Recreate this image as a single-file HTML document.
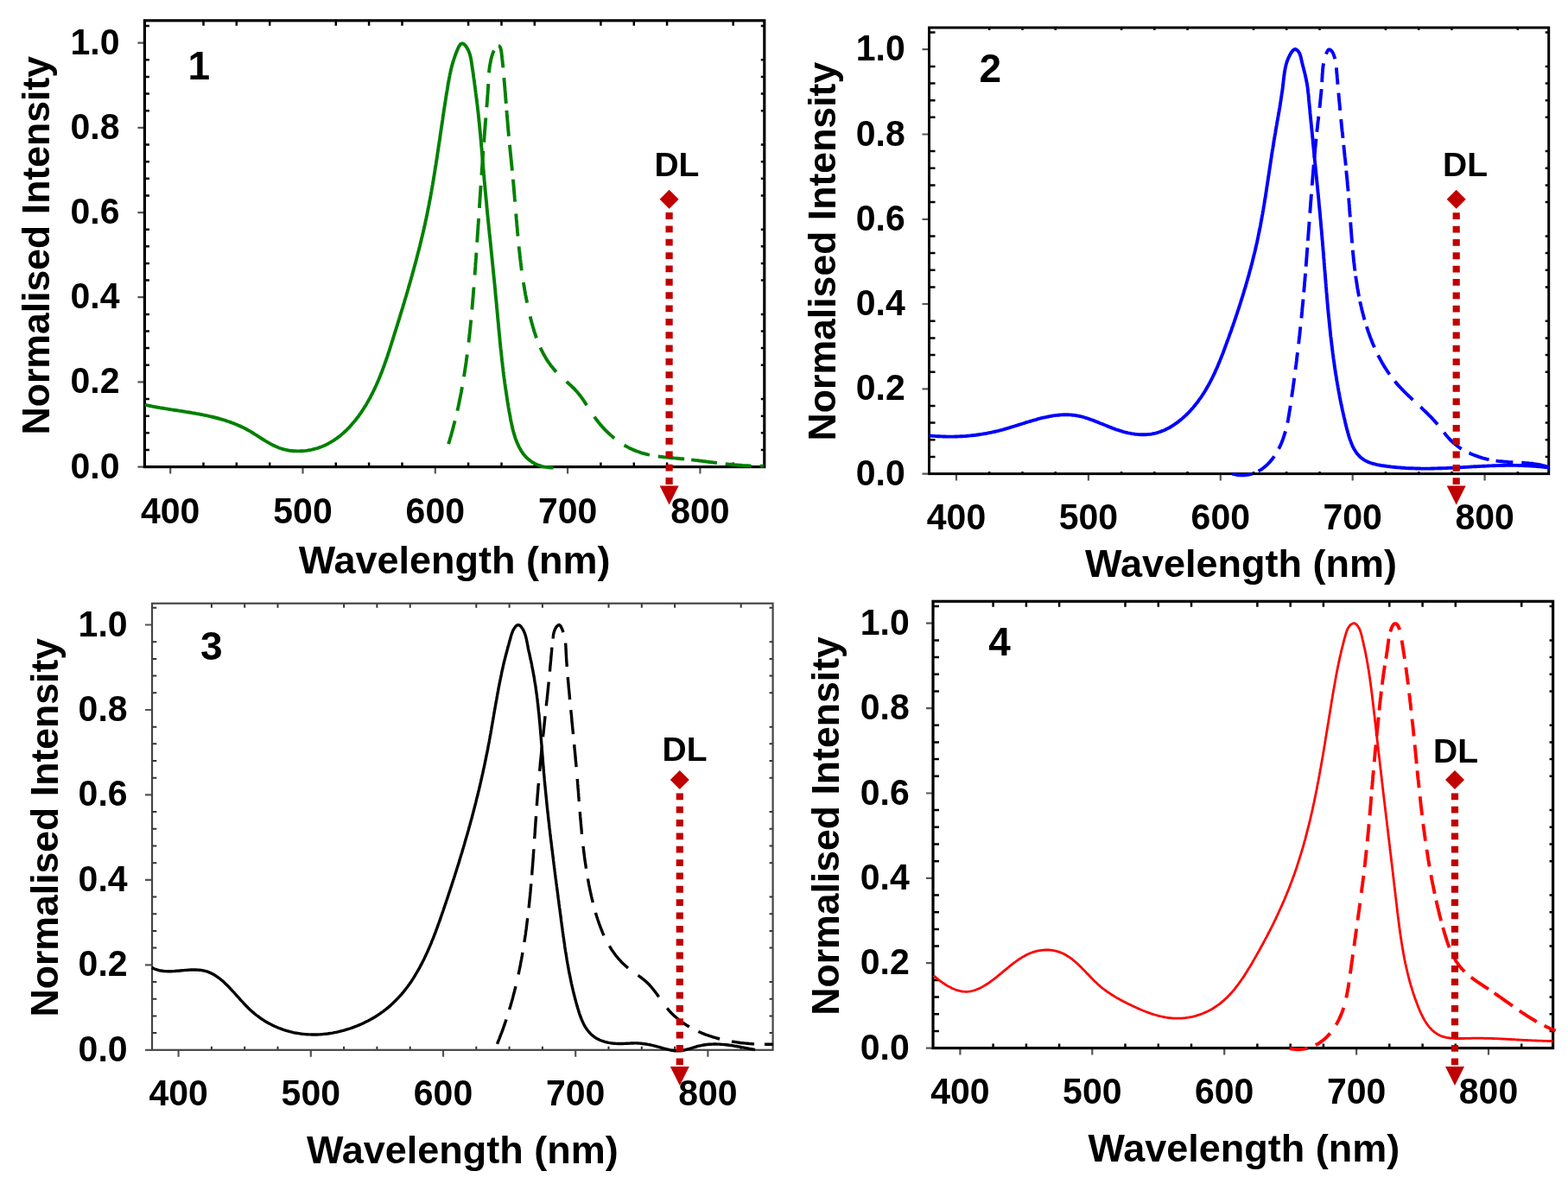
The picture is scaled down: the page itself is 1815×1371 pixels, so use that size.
<!DOCTYPE html>
<html><head><meta charset="utf-8"><title>Normalised Intensity spectra</title>
<style>html,body{margin:0;padding:0;background:#fff;}svg{display:block;}</style>
</head><body>
<svg width="1815" height="1371" viewBox="0 0 1815 1371" style="font-family:'Liberation Sans', Arial, sans-serif">
<rect width="1815" height="1371" fill="#fff"/>
<path d="M197.2,540.6V548.6 M350.5,540.6V548.6 M503.8,540.6V548.6 M657.1,540.6V548.6 M810.4,540.6V548.6 M167.4,540.6H159.4 M167.4,442.4H159.4 M167.4,344.2H159.4 M167.4,246.1H159.4 M167.4,147.9H159.4 M167.4,49.7H159.4" stroke="#555" stroke-width="2.2" fill="none"/>
<path d="M235.5,540.6V535.6 M235.5,23.8V29.8 M273.8,540.6V535.6 M273.8,23.8V29.8 M312.2,540.6V535.6 M312.2,23.8V29.8 M388.8,540.6V535.6 M388.8,23.8V29.8 M427.1,540.6V535.6 M427.1,23.8V29.8 M465.5,540.6V535.6 M465.5,23.8V29.8 M542.1,540.6V535.6 M542.1,23.8V29.8 M580.5,540.6V535.6 M580.5,23.8V29.8 M618.8,540.6V535.6 M618.8,23.8V29.8 M695.4,540.6V535.6 M695.4,23.8V29.8 M733.8,540.6V535.6 M733.8,23.8V29.8 M772.1,540.6V535.6 M772.1,23.8V29.8 M848.7,540.6V535.6 M848.7,23.8V29.8 M167.4,521.0H172.9 M884.8,521.0H880.8 M167.4,501.3H172.9 M884.8,501.3H880.8 M167.4,481.7H172.9 M884.8,481.7H880.8 M167.4,462.1H172.9 M884.8,462.1H880.8 M167.4,422.8H172.9 M884.8,422.8H880.8 M167.4,403.1H172.9 M884.8,403.1H880.8 M167.4,383.5H172.9 M884.8,383.5H880.8 M167.4,363.9H172.9 M884.8,363.9H880.8 M167.4,324.6H172.9 M884.8,324.6H880.8 M167.4,305.0H172.9 M884.8,305.0H880.8 M167.4,285.3H172.9 M884.8,285.3H880.8 M167.4,265.7H172.9 M884.8,265.7H880.8 M167.4,226.4H172.9 M884.8,226.4H880.8 M167.4,206.8H172.9 M884.8,206.8H880.8 M167.4,187.2H172.9 M884.8,187.2H880.8 M167.4,167.5H172.9 M884.8,167.5H880.8 M167.4,128.2H172.9 M884.8,128.2H880.8 M167.4,108.6H172.9 M884.8,108.6H880.8 M167.4,89.0H172.9 M884.8,89.0H880.8 M167.4,69.3H172.9 M884.8,69.3H880.8 M167.4,30.1H172.9 M884.8,30.1H880.8" stroke="#000" stroke-width="2.5" fill="none"/>
<rect x="167.4" y="23.8" width="717.4" height="516.8" fill="none" stroke="#000" stroke-width="3.2"/>
<path d="M167.9,468.8 169.8,469.2 171.7,469.6 173.6,470.0 175.5,470.4 177.5,470.8 179.4,471.1 181.3,471.5 183.3,471.8 185.2,472.2 187.2,472.5 189.2,472.8 191.1,473.1 193.1,473.4 195.1,473.8 197.1,474.1 199.0,474.4 201.0,474.7 203.0,475.0 205.0,475.3 207.0,475.6 209.0,475.9 211.0,476.2 213.0,476.5 215.0,476.9 217.0,477.2 219.0,477.5 221.0,477.8 223.0,478.2 225.0,478.5 227.0,478.9 229.0,479.2 231.0,479.6 233.0,480.0 234.9,480.4 236.9,480.8 238.9,481.2 240.9,481.6 242.9,482.1 244.8,482.5 246.8,483.0 248.7,483.5 250.7,484.0 252.6,484.5 254.6,485.0 256.5,485.6 258.4,486.2 260.3,486.7 262.2,487.4 264.1,488.0 266.0,488.6 267.9,489.3 269.7,490.0 271.6,490.7 273.4,491.5 275.3,492.3 277.1,493.1 278.9,493.9 280.7,494.7 282.5,495.6 284.3,496.5 286.0,497.5 287.8,498.4 289.5,499.4 291.2,500.4 292.9,501.5 294.6,502.6 296.3,503.6 298.0,504.7 299.7,505.8 301.4,506.9 303.1,508.0 304.8,509.0 306.5,510.1 308.2,511.1 309.9,512.1 311.7,513.1 313.4,514.1 315.1,515.0 316.9,515.9 318.7,516.7 320.5,517.5 322.3,518.3 324.2,519.0 326.1,519.6 328.0,520.2 329.9,520.7 331.9,521.1 333.8,521.5 335.8,521.8 337.8,522.0 339.8,522.2 341.9,522.3 343.9,522.4 345.9,522.4 348.0,522.3 350.0,522.2 352.0,522.1 354.1,521.9 356.1,521.6 358.1,521.2 360.1,520.9 362.1,520.4 364.0,519.9 365.9,519.4 367.9,518.8 369.7,518.2 371.6,517.5 373.4,516.8 375.2,516.0 377.0,515.2 378.8,514.3 380.5,513.4 382.2,512.4 383.9,511.4 385.6,510.4 387.2,509.3 388.9,508.2 390.4,507.1 392.0,505.9 393.6,504.7 395.1,503.4 396.6,502.1 398.1,500.8 399.5,499.5 401.0,498.1 402.4,496.7 403.8,495.3 405.2,493.8 406.5,492.3 407.8,490.8 409.1,489.3 410.4,487.8 411.7,486.2 412.9,484.6 414.2,483.0 415.4,481.4 416.5,479.7 417.7,478.1 418.8,476.4 420.0,474.7 421.0,473.0 422.1,471.3 423.2,469.6 424.2,467.9 425.2,466.1 426.2,464.4 427.2,462.6 428.2,460.9 429.1,459.1 430.0,457.3 431.0,455.6 431.8,453.8 432.7,452.0 433.6,450.2 434.4,448.4 435.3,446.5 436.1,444.7 436.9,442.9 437.7,441.0 438.5,439.2 439.2,437.3 440.0,435.5 440.7,433.6 441.5,431.8 442.2,429.9 442.9,428.0 443.6,426.1 444.3,424.3 445.0,422.4 445.6,420.5 446.3,418.6 447.0,416.7 447.6,414.8 448.3,412.9 448.9,411.0 449.5,409.1 450.2,407.2 450.8,405.3 451.4,403.4 452.0,401.4 452.6,399.5 453.2,397.6 453.8,395.7 454.4,393.8 455.0,391.9 455.6,390.0 456.2,388.0 456.8,386.1 457.4,384.2 458.0,382.3 458.6,380.4 459.2,378.5 459.8,376.6 460.4,374.6 461.0,372.7 461.6,370.8 462.2,368.9 462.8,367.0 463.3,365.1 463.9,363.2 464.5,361.3 465.1,359.3 465.7,357.4 466.3,355.5 466.8,353.6 467.4,351.7 468.0,349.8 468.5,347.9 469.1,346.0 469.7,344.0 470.3,342.1 470.8,340.2 471.4,338.3 471.9,336.4 472.5,334.5 473.0,332.6 473.6,330.6 474.2,328.7 474.7,326.8 475.2,324.9 475.8,323.0 476.3,321.0 476.9,319.1 477.4,317.2 477.9,315.3 478.5,313.4 479.0,311.4 479.5,309.5 480.0,307.6 480.6,305.7 481.1,303.7 481.6,301.8 482.1,299.9 482.6,297.9 483.1,296.0 483.6,294.1 484.1,292.1 484.6,290.2 485.1,288.3 485.6,286.3 486.1,284.4 486.5,282.5 487.0,280.5 487.5,278.6 487.9,276.6 488.4,274.7 488.9,272.7 489.3,270.8 489.8,268.9 490.2,266.9 490.7,265.0 491.1,263.0 491.6,261.0 492.0,259.1 492.4,257.1 492.8,255.2 493.3,253.2 493.7,251.2 494.1,249.3 494.5,247.3 494.9,245.3 495.3,243.4 495.7,241.4 496.1,239.4 496.5,237.4 496.8,235.5 497.2,233.5 497.6,231.5 498.0,229.5 498.3,227.5 498.7,225.6 499.0,223.6 499.4,221.6 499.7,219.6 500.1,217.6 500.4,215.6 500.8,213.6 501.1,211.6 501.5,209.7 501.8,207.7 502.1,205.7 502.4,203.7 502.8,201.7 503.1,199.7 503.4,197.7 503.7,195.7 504.0,193.7 504.4,191.7 504.7,189.7 505.0,187.7 505.3,185.7 505.6,183.8 505.9,181.8 506.2,179.8 506.5,177.8 506.8,175.8 507.1,173.8 507.4,171.8 507.7,169.8 508.0,167.8 508.3,165.8 508.6,163.9 508.9,161.9 509.2,159.9 509.5,157.9 509.7,155.9 510.0,154.0 510.3,152.0 510.6,150.0 510.9,148.0 511.2,146.0 511.5,144.1 511.8,142.1 512.1,140.1 512.4,138.2 512.6,136.2 512.9,134.2 513.2,132.3 513.5,130.3 513.8,128.4 514.1,126.4 514.4,124.5 514.7,122.5 515.0,120.6 515.3,118.6 515.6,116.7 515.9,114.7 516.2,112.8 516.5,110.9 516.8,108.9 517.1,107.0 517.5,105.1 517.8,103.2 518.1,101.2 518.4,99.3 518.7,97.4 519.1,95.5 519.4,93.6 519.7,91.7 520.1,89.8 520.5,87.8 520.8,85.9 521.3,84.0 521.7,82.0 522.1,80.1 522.6,78.1 523.2,76.1 523.7,74.1 524.3,72.1 524.9,70.1 525.6,68.0 526.3,65.9 527.0,63.8 527.8,61.7 528.7,59.5 529.6,57.3 530.6,55.2 531.6,53.2 532.7,51.6 533.9,50.6 535.2,50.3 536.6,50.8 538.0,52.0 539.4,53.6 540.6,55.5 541.7,57.5 542.6,59.5 543.4,61.5 544.0,63.5 544.5,65.5 545.0,67.5 545.4,69.6 545.7,71.6 546.0,73.7 546.3,75.7 546.6,77.7 546.9,79.7 547.2,81.8 547.5,83.8 547.8,85.8 548.1,87.8 548.3,89.8 548.6,91.8 548.9,93.8 549.2,95.8 549.4,97.8 549.7,99.8 550.0,101.8 550.2,103.7 550.5,105.7 550.7,107.7 551.0,109.7 551.2,111.6 551.5,113.6 551.7,115.6 552.0,117.6 552.2,119.5 552.5,121.5 552.7,123.5 552.9,125.4 553.1,127.4 553.4,129.3 553.6,131.3 553.8,133.3 554.0,135.2 554.2,137.2 554.4,139.2 554.6,141.1 554.8,143.1 555.0,145.1 555.2,147.0 555.4,149.0 555.6,151.0 555.8,153.0 556.0,154.9 556.2,156.9 556.3,158.9 556.5,160.9 556.7,162.9 556.9,164.8 557.0,166.8 557.2,168.8 557.4,170.8 557.6,172.8 557.7,174.8 557.9,176.8 558.1,178.8 558.2,180.8 558.4,182.8 558.6,184.8 558.7,186.8 558.9,188.8 559.1,190.8 559.2,192.8 559.4,194.8 559.6,196.8 559.7,198.8 559.9,200.8 560.1,202.8 560.3,204.8 560.4,206.8 560.6,208.8 560.8,210.8 561.0,212.8 561.2,214.8 561.4,216.8 561.5,218.8 561.7,220.8 561.9,222.8 562.1,224.8 562.3,226.8 562.5,228.8 562.7,230.8 562.9,232.8 563.1,234.8 563.3,236.8 563.4,238.8 563.6,240.8 563.8,242.8 564.0,244.9 564.2,246.9 564.4,248.9 564.6,250.9 564.8,252.9 565.0,254.9 565.2,256.9 565.4,258.9 565.6,260.9 565.8,262.9 566.0,264.9 566.2,266.9 566.4,268.9 566.6,270.9 566.8,272.9 567.1,274.9 567.3,276.9 567.5,278.9 567.7,280.9 567.9,282.9 568.1,284.9 568.3,286.9 568.5,288.9 568.7,290.9 568.9,292.9 569.1,294.9 569.3,296.9 569.5,298.9 569.7,300.9 569.9,302.9 570.1,304.9 570.3,306.9 570.5,308.9 570.7,310.9 570.9,312.9 571.1,314.9 571.3,316.9 571.5,318.9 571.7,320.9 571.9,322.9 572.1,324.9 572.3,326.9 572.5,328.8 572.7,330.8 572.9,332.8 573.1,334.8 573.3,336.8 573.4,338.8 573.6,340.8 573.8,342.7 574.0,344.7 574.2,346.7 574.4,348.7 574.6,350.7 574.8,352.6 574.9,354.6 575.1,356.6 575.3,358.6 575.5,360.5 575.7,362.5 575.9,364.5 576.0,366.5 576.2,368.4 576.4,370.4 576.6,372.4 576.8,374.4 577.0,376.3 577.1,378.3 577.3,380.3 577.5,382.2 577.7,384.2 577.9,386.2 578.1,388.2 578.3,390.1 578.5,392.1 578.6,394.1 578.8,396.1 579.0,398.0 579.2,400.0 579.4,402.0 579.6,404.0 579.9,405.9 580.1,407.9 580.3,409.9 580.5,411.9 580.7,413.9 580.9,415.8 581.1,417.8 581.4,419.8 581.6,421.8 581.8,423.8 582.1,425.8 582.3,427.8 582.5,429.7 582.8,431.7 583.0,433.7 583.3,435.7 583.5,437.7 583.8,439.7 584.1,441.7 584.3,443.7 584.6,445.7 584.9,447.7 585.2,449.8 585.5,451.8 585.8,453.8 586.1,455.8 586.4,457.8 586.7,459.8 587.0,461.9 587.3,463.9 587.6,465.9 588.0,467.9 588.3,470.0 588.6,472.0 589.0,474.1 589.3,476.1 589.7,478.1 590.1,480.2 590.5,482.2 590.8,484.3 591.2,486.3 591.6,488.4 592.1,490.4 592.5,492.5 593.0,494.5 593.4,496.5 593.9,498.5 594.5,500.5 595.0,502.4 595.6,504.3 596.2,506.3 596.8,508.1 597.5,510.0 598.2,511.8 599.0,513.6 599.8,515.4 600.6,517.1 601.5,518.8 602.4,520.4 603.3,522.0 604.4,523.6 605.4,525.1 606.5,526.5 607.7,527.9 609.0,529.3 610.2,530.5 611.6,531.8 613.0,532.9 614.5,534.0 616.0,535.1 617.7,536.0 619.3,536.9 621.1,537.8 622.9,538.5 624.9,539.2 626.8,539.8 628.9,540.3 631.1,540.7 633.3,541.1 635.6,541.3 638.0,541.5 640.5,541.5" stroke="#008000" stroke-width="3.9" fill="none" stroke-linejoin="round"/>
<path d="M519.1,514.1 519.7,512.2 520.3,510.3 520.8,508.4 521.4,506.5 522.0,504.6 522.5,502.7 523.0,500.8 523.6,498.9 524.1,496.9 524.6,495.0 525.1,493.1 525.6,491.1 526.1,489.2 526.6,487.3 527.1,485.3 527.6,483.4 528.0,481.5 528.5,479.5 529.0,477.6 529.4,475.6 529.8,473.7 530.3,471.7 530.7,469.8 531.1,467.8 531.5,465.9 531.9,463.9 532.3,462.0 532.7,460.0 533.1,458.1 533.5,456.1 533.9,454.1 534.2,452.2 534.6,450.2 535.0,448.2 535.3,446.2 535.7,444.3 536.0,442.3 536.3,440.3 536.7,438.4 537.0,436.4 537.3,434.4 537.6,432.4 537.9,430.4 538.2,428.5 538.5,426.5 538.8,424.5 539.1,422.5 539.4,420.5 539.7,418.5 539.9,416.5 540.2,414.5 540.5,412.6 540.7,410.6 541.0,408.6 541.3,406.6 541.5,404.6 541.8,402.6 542.0,400.6 542.2,398.6 542.5,396.6 542.7,394.6 542.9,392.6 543.1,390.6 543.4,388.6 543.6,386.6 543.8,384.6 544.0,382.6 544.2,380.6 544.4,378.6 544.6,376.6 544.8,374.6 545.0,372.6 545.2,370.6 545.4,368.6 545.6,366.6 545.8,364.6 545.9,362.6 546.1,360.6 546.3,358.6 546.5,356.6 546.7,354.6 546.8,352.6 547.0,350.6 547.2,348.6 547.3,346.6 547.5,344.6 547.7,342.6 547.8,340.6 548.0,338.6 548.1,336.6 548.3,334.6 548.5,332.6 548.6,330.6 548.8,328.6 548.9,326.6 549.1,324.6 549.2,322.6 549.4,320.6 549.5,318.6 549.7,316.6 549.8,314.6 550.0,312.6 550.1,310.7 550.3,308.7 550.4,306.7 550.5,304.7 550.7,302.7 550.8,300.7 551.0,298.7 551.1,296.7 551.2,294.7 551.4,292.7 551.5,290.7 551.7,288.7 551.8,286.7 551.9,284.8 552.1,282.8 552.2,280.8 552.3,278.8 552.5,276.8 552.6,274.8 552.7,272.8 552.9,270.8 553.0,268.8 553.1,266.8 553.3,264.8 553.4,262.9 553.5,260.9 553.7,258.9 553.8,256.9 553.9,254.9 554.1,252.9 554.2,250.9 554.3,248.9 554.5,246.9 554.6,244.9 554.7,242.9 554.9,240.9 555.0,239.0 555.1,237.0 555.3,235.0 555.4,233.0 555.5,231.0 555.6,229.0 555.8,227.0 555.9,225.0 556.0,223.0 556.2,221.0 556.3,219.0 556.4,217.0 556.6,215.0 556.7,213.0 556.8,211.0 557.0,209.0 557.1,207.0 557.3,205.0 557.4,203.0 557.5,201.0 557.7,199.0 557.8,197.0 557.9,195.0 558.1,193.0 558.2,191.0 558.4,189.0 558.5,187.0 558.6,184.9 558.8,182.9 558.9,180.9 559.1,178.9 559.2,176.9 559.4,174.9 559.5,172.9 559.7,170.9 559.8,168.8 560.0,166.8 560.1,164.8 560.3,162.8 560.4,160.8 560.6,158.8 560.7,156.7 560.9,154.7 561.0,152.7 561.2,150.7 561.4,148.6 561.5,146.6 561.7,144.6 561.8,142.6 562.0,140.5 562.2,138.5 562.3,136.5 562.5,134.4 562.7,132.4 562.8,130.4 563.0,128.3 563.2,126.3 563.3,124.3 563.5,122.3 563.7,120.3 563.8,118.3 564.0,116.3 564.1,114.3 564.3,112.3 564.4,110.4 564.6,108.4 564.7,106.5 564.8,104.6 564.9,102.7 565.1,100.8 565.2,98.9 565.3,97.0 565.3,95.2 565.4,93.4 565.5,91.6 565.6,89.7 565.7,87.9 565.9,86.1 566.0,84.2 566.2,82.3 566.4,80.4 566.6,78.4 566.9,76.4 567.3,74.3 567.7,72.2 568.1,70.0 568.6,67.7 569.3,65.3 570.0,63.0 570.8,60.8 571.8,58.6 573.0,56.6 574.3,54.9 575.6,53.7 576.9,53.1 578.0,53.3 578.8,54.4 579.5,56.1 580.0,58.2 580.4,60.6 580.7,63.1 581.0,65.6 581.2,67.9 581.5,70.1 581.7,72.2 581.9,74.3 582.1,76.3 582.3,78.3 582.5,80.2 582.7,82.2 582.8,84.2 583.0,86.1 583.2,88.1 583.4,90.1 583.5,92.0 583.7,94.0 583.9,96.0 584.0,98.0 584.2,99.9 584.4,101.9 584.5,103.9 584.7,105.9 584.9,107.9 585.0,109.8 585.2,111.8 585.3,113.8 585.5,115.8 585.6,117.8 585.8,119.8 586.0,121.7 586.1,123.7 586.3,125.7 586.4,127.7 586.6,129.7 586.7,131.7 586.9,133.7 587.1,135.7 587.2,137.6 587.4,139.6 587.6,141.6 587.7,143.6 587.9,145.6 588.1,147.6 588.2,149.6 588.4,151.6 588.6,153.6 588.8,155.6 588.9,157.6 589.1,159.6 589.3,161.6 589.5,163.5 589.7,165.5 589.9,167.5 590.1,169.5 590.3,171.5 590.5,173.5 590.7,175.5 590.9,177.5 591.1,179.5 591.3,181.5 591.5,183.5 591.7,185.5 591.9,187.5 592.1,189.5 592.3,191.5 592.5,193.5 592.7,195.5 592.9,197.5 593.1,199.5 593.3,201.5 593.4,203.5 593.6,205.5 593.8,207.5 594.0,209.5 594.2,211.5 594.4,213.5 594.6,215.5 594.7,217.5 594.9,219.5 595.1,221.5 595.2,223.5 595.4,225.4 595.6,227.4 595.7,229.4 595.9,231.4 596.1,233.4 596.2,235.4 596.4,237.4 596.6,239.4 596.7,241.4 596.9,243.4 597.1,245.4 597.2,247.4 597.4,249.4 597.6,251.4 597.7,253.4 597.9,255.4 598.1,257.4 598.2,259.4 598.4,261.4 598.6,263.4 598.8,265.4 598.9,267.4 599.1,269.4 599.3,271.4 599.5,273.4 599.7,275.4 599.9,277.4 600.0,279.4 600.2,281.4 600.4,283.4 600.6,285.3 600.8,287.3 601.0,289.3 601.3,291.3 601.5,293.3 601.7,295.3 601.9,297.3 602.1,299.3 602.4,301.3 602.6,303.2 602.9,305.2 603.1,307.2 603.4,309.2 603.6,311.2 603.9,313.2 604.2,315.1 604.4,317.1 604.7,319.1 605.0,321.1 605.3,323.1 605.6,325.0 605.9,327.0 606.2,329.0 606.5,331.0 606.9,332.9 607.2,334.9 607.5,336.9 607.9,338.9 608.2,340.8 608.6,342.8 609.0,344.8 609.4,346.7 609.7,348.7 610.1,350.7 610.6,352.6 611.0,354.6 611.4,356.6 611.8,358.5 612.3,360.5 612.7,362.4 613.2,364.4 613.7,366.3 614.1,368.3 614.6,370.2 615.1,372.2 615.6,374.1 616.2,376.1 616.7,378.0 617.3,380.0 617.9,381.9 618.4,383.8 619.1,385.7 619.7,387.6 620.3,389.5 621.0,391.4 621.7,393.3 622.4,395.1 623.1,397.0 623.9,398.8 624.7,400.6 625.5,402.5 626.3,404.3 627.2,406.0 628.1,407.8 629.0,409.6 629.9,411.3 630.9,413.0 631.9,414.7 632.9,416.4 634.0,418.1 635.1,419.7 636.3,421.3 637.4,422.9 638.7,424.5 639.9,426.0 641.2,427.6 642.5,429.1 643.9,430.6 645.3,432.0 646.7,433.5 648.2,434.9 649.7,436.3 651.2,437.7 652.7,439.1 654.2,440.4 655.8,441.8 657.3,443.2 658.8,444.6 660.3,446.0 661.8,447.4 663.2,448.8 664.7,450.2 666.1,451.7 667.4,453.2 668.8,454.7 670.0,456.2 671.3,457.8 672.5,459.4 673.6,461.0 674.8,462.6 675.9,464.3 677.0,465.9 678.1,467.6 679.2,469.3 680.2,471.0 681.3,472.6 682.4,474.3 683.5,476.0 684.6,477.7 685.7,479.3 686.8,481.0 688.0,482.6 689.1,484.2 690.3,485.9 691.6,487.4 692.8,489.0 694.1,490.6 695.4,492.1 696.7,493.6 698.1,495.1 699.4,496.6 700.8,498.1 702.2,499.5 703.7,500.9 705.1,502.3 706.6,503.6 708.1,504.9 709.6,506.2 711.2,507.5 712.8,508.7 714.3,509.9 716.0,511.1 717.6,512.3 719.2,513.4 720.9,514.4 722.6,515.5 724.3,516.5 726.0,517.4 727.8,518.4 729.5,519.2 731.3,520.1 733.1,520.9 734.9,521.6 736.7,522.4 738.6,523.0 740.5,523.7 742.3,524.3 744.2,524.8 746.1,525.3 748.1,525.8 750.0,526.3 752.0,526.7 753.9,527.1 755.9,527.5 757.9,527.8 759.9,528.1 761.8,528.4 763.8,528.7 765.9,528.9 767.9,529.2 769.9,529.4 771.9,529.6 773.9,529.8 776.0,530.0 778.0,530.2 780.0,530.4 782.0,530.6 784.1,530.8 786.1,531.0 788.1,531.2 790.1,531.3 792.2,531.5 794.2,531.7 796.2,532.0 798.2,532.2 800.2,532.4 802.2,532.6 804.2,532.9 806.2,533.1 808.2,533.3 810.1,533.6 812.1,533.8 814.1,534.1 816.1,534.3 818.1,534.6 820.0,534.8 822.0,535.1 824.0,535.3 825.9,535.6 827.9,535.8 829.9,536.0 831.9,536.3 833.8,536.5 835.8,536.7 837.8,537.0 839.8,537.2 841.7,537.4 843.7,537.6 845.7,537.8 847.7,538.0 849.6,538.2 851.6,538.4 853.6,538.5 855.6,538.7 857.6,538.8 859.6,539.0 861.6,539.1 863.6,539.2 865.6,539.3 867.6,539.4 869.7,539.5 871.7,539.5 873.7,539.6 875.7,539.6 877.8,539.6 879.8,539.6 881.9,539.6 883.9,539.6" stroke="#008000" stroke-width="3.9" fill="none" stroke-linejoin="round" stroke-dasharray="0.0 0.0 27.9 12.0 28.0 12.0 26.1 14.1 26.1 12.1 26.1 14.0 26.0 12.0 27.9 12.0 26.0 12.0 28.2 10.1 28.4 12.2 27.3 12.9 26.4 7.7 26.7 11.9 29.8 8.0 30.0 10.0 30.1 10.0 26.1 14.0 26.0 12.0 28.0 14.0 24.0 16.1 26.1 11.9 33.8 16.4 36.2 16.0 34.2 13.9 31.6 10.0 30.5 8.1 29.9 9.9 30.0 10.2 4.1"/>
<text transform="translate(197.2,605.5) scale(1,1.045)" font-size="41" font-weight="bold" text-anchor="middle">400</text>
<text transform="translate(350.5,605.5) scale(1,1.045)" font-size="41" font-weight="bold" text-anchor="middle">500</text>
<text transform="translate(503.8,605.5) scale(1,1.045)" font-size="41" font-weight="bold" text-anchor="middle">600</text>
<text transform="translate(657.1,605.5) scale(1,1.045)" font-size="41" font-weight="bold" text-anchor="middle">700</text>
<text transform="translate(810.4,605.5) scale(1,1.045)" font-size="41" font-weight="bold" text-anchor="middle">800</text>
<text transform="translate(138.5,553.6) scale(1,1.045)" font-size="41" font-weight="bold" text-anchor="end">0.0</text>
<text transform="translate(138.5,455.4) scale(1,1.045)" font-size="41" font-weight="bold" text-anchor="end">0.2</text>
<text transform="translate(138.5,357.2) scale(1,1.045)" font-size="41" font-weight="bold" text-anchor="end">0.4</text>
<text transform="translate(138.5,259.1) scale(1,1.045)" font-size="41" font-weight="bold" text-anchor="end">0.6</text>
<text transform="translate(138.5,160.9) scale(1,1.045)" font-size="41" font-weight="bold" text-anchor="end">0.8</text>
<text transform="translate(138.5,62.7) scale(1,1.045)" font-size="41" font-weight="bold" text-anchor="end">1.0</text>
<text x="526.1" y="664.0" font-size="45" font-weight="bold" text-anchor="middle">Wavelength (nm)</text>
<text transform="translate(57.3,284.2) rotate(-90)" font-size="44.6" font-weight="bold" text-anchor="middle">Normalised Intensity</text>
<text x="230.3" y="92.1" font-size="46" font-weight="bold" text-anchor="middle">1</text>
<text x="783.4" y="203.7" font-size="39" font-weight="bold" text-anchor="middle">DL</text>
<path d="M774.6,219.8l11,11 -11,11 -11,-11z" fill="#C00000"/>
<path d="M774.6,246.1V562.6" stroke="#C00000" stroke-width="8.2" stroke-dasharray="7.8 7.55"/>
<path d="M763.6,562.6h22l-11,22z" fill="#C00000"/>
<path d="M1107.0,548.6V556.6 M1259.9,548.6V556.6 M1412.8,548.6V556.6 M1565.7,548.6V556.6 M1718.6,548.6V556.6 M1075.5,548.6H1067.5 M1075.5,450.3H1067.5 M1075.5,352.0H1067.5 M1075.5,253.8H1067.5 M1075.5,155.5H1067.5 M1075.5,57.2H1067.5" stroke="#555" stroke-width="2.2" fill="none"/>
<path d="M1145.2,548.6V546.1 M1145.2,32.0V35.0 M1183.5,548.6V546.1 M1183.5,32.0V35.0 M1221.7,548.6V546.1 M1221.7,32.0V35.0 M1298.1,548.6V546.1 M1298.1,32.0V35.0 M1336.3,548.6V546.1 M1336.3,32.0V35.0 M1374.6,548.6V546.1 M1374.6,32.0V35.0 M1451.0,548.6V546.1 M1451.0,32.0V35.0 M1489.2,548.6V546.1 M1489.2,32.0V35.0 M1527.5,548.6V546.1 M1527.5,32.0V35.0 M1603.9,548.6V546.1 M1603.9,32.0V35.0 M1642.2,548.6V546.1 M1642.2,32.0V35.0 M1680.4,548.6V546.1 M1680.4,32.0V35.0 M1756.8,548.6V546.1 M1756.8,32.0V35.0 M1075.5,528.9H1082.5 M1792.7,528.9H1788.7 M1075.5,509.3H1082.5 M1792.7,509.3H1788.7 M1075.5,489.6H1082.5 M1792.7,489.6H1788.7 M1075.5,470.0H1082.5 M1792.7,470.0H1788.7 M1075.5,430.7H1082.5 M1792.7,430.7H1788.7 M1075.5,411.0H1082.5 M1792.7,411.0H1788.7 M1075.5,391.4H1082.5 M1792.7,391.4H1788.7 M1075.5,371.7H1082.5 M1792.7,371.7H1788.7 M1075.5,332.4H1082.5 M1792.7,332.4H1788.7 M1075.5,312.7H1082.5 M1792.7,312.7H1788.7 M1075.5,293.1H1082.5 M1792.7,293.1H1788.7 M1075.5,273.4H1082.5 M1792.7,273.4H1788.7 M1075.5,234.1H1082.5 M1792.7,234.1H1788.7 M1075.5,214.4H1082.5 M1792.7,214.4H1788.7 M1075.5,194.8H1082.5 M1792.7,194.8H1788.7 M1075.5,175.1H1082.5 M1792.7,175.1H1788.7 M1075.5,135.8H1082.5 M1792.7,135.8H1788.7 M1075.5,116.2H1082.5 M1792.7,116.2H1788.7 M1075.5,96.5H1082.5 M1792.7,96.5H1788.7 M1075.5,76.9H1082.5 M1792.7,76.9H1788.7 M1075.5,37.5H1082.5 M1792.7,37.5H1788.7" stroke="#000" stroke-width="2.5" fill="none"/>
<rect x="1075.5" y="32.0" width="717.2" height="516.6" fill="none" stroke="#000" stroke-width="3.0"/>
<path d="M1075.3,504.4 1077.4,504.6 1079.4,504.8 1081.5,504.9 1083.6,505.1 1085.6,505.2 1087.7,505.3 1089.7,505.4 1091.8,505.5 1093.8,505.5 1095.8,505.6 1097.8,505.6 1099.8,505.6 1101.9,505.6 1103.8,505.6 1105.8,505.5 1107.8,505.5 1109.8,505.4 1111.8,505.3 1113.8,505.2 1115.7,505.1 1117.7,505.0 1119.7,504.8 1121.6,504.6 1123.6,504.4 1125.5,504.2 1127.5,504.0 1129.4,503.8 1131.4,503.5 1133.3,503.2 1135.3,502.9 1137.2,502.6 1139.1,502.3 1141.1,502.0 1143.0,501.6 1145.0,501.2 1146.9,500.8 1148.8,500.4 1150.8,500.0 1152.7,499.5 1154.6,499.1 1156.6,498.6 1158.5,498.1 1160.5,497.6 1162.4,497.0 1164.4,496.5 1166.3,495.9 1168.3,495.3 1170.2,494.7 1172.2,494.2 1174.1,493.5 1176.1,492.9 1178.0,492.3 1180.0,491.7 1181.9,491.1 1183.9,490.5 1185.8,489.9 1187.8,489.2 1189.8,488.6 1191.7,488.0 1193.7,487.5 1195.6,486.9 1197.6,486.3 1199.5,485.8 1201.5,485.2 1203.5,484.7 1205.4,484.2 1207.4,483.7 1209.3,483.3 1211.3,482.9 1213.2,482.5 1215.2,482.1 1217.1,481.7 1219.1,481.4 1221.0,481.1 1222.9,480.9 1224.9,480.7 1226.8,480.5 1228.8,480.4 1230.7,480.3 1232.6,480.2 1234.5,480.2 1236.5,480.3 1238.4,480.4 1240.3,480.5 1242.2,480.7 1244.1,480.9 1246.0,481.2 1248.0,481.6 1249.9,482.0 1251.8,482.4 1253.7,482.9 1255.6,483.5 1257.5,484.1 1259.4,484.7 1261.2,485.3 1263.1,486.0 1265.0,486.7 1266.9,487.4 1268.8,488.2 1270.7,488.9 1272.6,489.7 1274.6,490.5 1276.5,491.2 1278.4,492.0 1280.3,492.8 1282.2,493.6 1284.2,494.4 1286.1,495.1 1288.0,495.9 1290.0,496.6 1291.9,497.3 1293.9,497.9 1295.9,498.6 1297.9,499.2 1299.9,499.8 1301.8,500.3 1303.9,500.8 1305.9,501.3 1307.9,501.7 1309.9,502.1 1311.9,502.4 1313.9,502.7 1315.9,502.9 1317.9,503.1 1319.9,503.2 1321.9,503.2 1323.9,503.3 1325.9,503.2 1327.9,503.1 1329.8,502.9 1331.8,502.7 1333.7,502.4 1335.6,502.0 1337.5,501.6 1339.4,501.1 1341.3,500.5 1343.1,499.9 1345.0,499.2 1346.8,498.5 1348.6,497.7 1350.4,496.8 1352.1,495.9 1353.9,495.0 1355.6,494.0 1357.3,492.9 1358.9,491.9 1360.6,490.7 1362.2,489.6 1363.8,488.4 1365.4,487.1 1367.0,485.9 1368.5,484.6 1370.0,483.2 1371.5,481.9 1373.0,480.5 1374.4,479.1 1375.9,477.6 1377.3,476.2 1378.6,474.7 1380.0,473.2 1381.3,471.7 1382.5,470.1 1383.8,468.6 1385.0,467.0 1386.3,465.4 1387.4,463.8 1388.6,462.2 1389.8,460.6 1390.9,459.0 1392.0,457.3 1393.1,455.6 1394.1,454.0 1395.2,452.3 1396.2,450.6 1397.2,448.8 1398.2,447.1 1399.1,445.4 1400.1,443.6 1401.0,441.9 1401.9,440.1 1402.8,438.3 1403.7,436.5 1404.6,434.7 1405.5,432.9 1406.3,431.1 1407.1,429.2 1408.0,427.4 1408.8,425.6 1409.6,423.7 1410.3,421.9 1411.1,420.0 1411.9,418.2 1412.6,416.3 1413.4,414.4 1414.1,412.5 1414.9,410.7 1415.6,408.8 1416.3,406.9 1417.0,405.0 1417.7,403.1 1418.4,401.2 1419.1,399.3 1419.8,397.4 1420.5,395.5 1421.2,393.6 1421.9,391.7 1422.6,389.8 1423.2,387.9 1423.9,386.0 1424.6,384.2 1425.3,382.3 1425.9,380.4 1426.6,378.5 1427.3,376.6 1427.9,374.7 1428.6,372.8 1429.2,370.9 1429.9,369.0 1430.5,367.1 1431.1,365.2 1431.8,363.3 1432.4,361.4 1433.0,359.5 1433.7,357.6 1434.3,355.7 1434.9,353.8 1435.5,351.9 1436.1,350.0 1436.7,348.1 1437.3,346.2 1437.9,344.2 1438.5,342.3 1439.1,340.4 1439.7,338.5 1440.2,336.6 1440.8,334.7 1441.4,332.8 1442.0,330.9 1442.5,329.0 1443.1,327.1 1443.6,325.1 1444.2,323.2 1444.7,321.3 1445.3,319.4 1445.8,317.5 1446.3,315.5 1446.8,313.6 1447.4,311.7 1447.9,309.8 1448.4,307.8 1448.9,305.9 1449.4,304.0 1449.9,302.0 1450.4,300.1 1450.8,298.2 1451.3,296.2 1451.8,294.3 1452.3,292.4 1452.7,290.4 1453.2,288.5 1453.6,286.5 1454.1,284.6 1454.5,282.6 1455.0,280.7 1455.4,278.7 1455.8,276.8 1456.2,274.8 1456.6,272.9 1457.0,270.9 1457.4,269.0 1457.8,267.0 1458.2,265.0 1458.6,263.1 1459.0,261.1 1459.3,259.1 1459.7,257.2 1460.1,255.2 1460.4,253.2 1460.8,251.2 1461.1,249.3 1461.5,247.3 1461.8,245.3 1462.2,243.3 1462.5,241.4 1462.8,239.4 1463.2,237.4 1463.5,235.4 1463.8,233.4 1464.1,231.4 1464.5,229.5 1464.8,227.5 1465.1,225.5 1465.4,223.5 1465.7,221.5 1466.0,219.5 1466.3,217.5 1466.6,215.5 1466.9,213.6 1467.2,211.6 1467.5,209.6 1467.8,207.6 1468.1,205.6 1468.4,203.6 1468.7,201.6 1469.0,199.6 1469.3,197.7 1469.6,195.7 1469.9,193.7 1470.2,191.7 1470.5,189.7 1470.8,187.7 1471.1,185.7 1471.4,183.7 1471.7,181.8 1472.0,179.8 1472.3,177.8 1472.6,175.8 1472.9,173.8 1473.3,171.8 1473.6,169.9 1473.9,167.9 1474.2,165.9 1474.5,163.9 1474.8,162.0 1475.2,160.0 1475.5,158.0 1475.8,156.1 1476.2,154.1 1476.5,152.1 1476.8,150.1 1477.2,148.2 1477.5,146.2 1477.9,144.3 1478.2,142.3 1478.5,140.3 1478.9,138.4 1479.2,136.4 1479.6,134.4 1479.9,132.5 1480.3,130.5 1480.6,128.6 1480.9,126.6 1481.3,124.6 1481.6,122.7 1481.9,120.7 1482.2,118.7 1482.5,116.7 1482.8,114.8 1483.1,112.8 1483.4,110.8 1483.7,108.8 1484.0,106.9 1484.3,104.9 1484.6,102.9 1484.8,100.9 1485.1,98.9 1485.3,96.9 1485.5,94.9 1485.7,92.9 1486.0,90.9 1486.2,88.9 1486.5,86.9 1486.7,84.9 1487.0,82.9 1487.4,80.9 1487.7,78.9 1488.2,76.9 1488.6,75.0 1489.2,73.0 1489.8,71.1 1490.5,69.2 1491.3,67.3 1492.2,65.4 1493.1,63.6 1494.2,61.7 1495.4,59.9 1496.7,58.3 1498.1,57.2 1499.6,57.0 1501.1,57.7 1502.6,59.1 1503.8,60.9 1504.7,62.9 1505.4,65.0 1506.0,67.1 1506.4,69.2 1506.9,71.2 1507.3,73.1 1507.8,75.0 1508.2,76.8 1508.7,78.6 1509.2,80.5 1509.7,82.4 1510.2,84.4 1510.7,86.4 1511.1,88.4 1511.6,90.5 1512.0,92.5 1512.4,94.5 1512.8,96.5 1513.1,98.5 1513.4,100.5 1513.7,102.5 1513.9,104.5 1514.1,106.5 1514.4,108.5 1514.6,110.4 1514.8,112.4 1514.9,114.4 1515.1,116.4 1515.3,118.3 1515.5,120.3 1515.7,122.3 1515.9,124.3 1516.1,126.2 1516.3,128.2 1516.4,130.2 1516.6,132.2 1516.8,134.1 1517.0,136.1 1517.2,138.1 1517.4,140.1 1517.6,142.1 1517.8,144.1 1518.0,146.0 1518.2,148.0 1518.4,150.0 1518.6,152.0 1518.8,154.0 1519.0,156.0 1519.2,158.0 1519.4,160.0 1519.6,162.0 1519.7,164.0 1519.9,166.0 1520.1,168.0 1520.3,170.0 1520.5,171.9 1520.7,173.9 1520.9,175.9 1521.1,177.9 1521.3,179.9 1521.5,181.9 1521.7,183.9 1521.9,185.9 1522.1,187.9 1522.3,189.9 1522.5,191.9 1522.7,193.9 1522.9,195.9 1523.1,197.9 1523.3,199.9 1523.5,202.0 1523.7,204.0 1523.9,206.0 1524.1,208.0 1524.3,210.0 1524.5,212.0 1524.7,214.0 1524.9,216.0 1525.1,218.0 1525.3,220.0 1525.5,222.0 1525.7,224.0 1525.9,226.0 1526.1,228.0 1526.3,230.0 1526.5,232.0 1526.6,234.0 1526.8,236.0 1527.0,238.0 1527.2,240.0 1527.4,242.0 1527.6,244.0 1527.8,246.0 1528.0,248.0 1528.1,250.0 1528.3,252.0 1528.5,254.0 1528.7,256.0 1528.9,258.0 1529.0,260.0 1529.2,262.0 1529.4,264.0 1529.6,266.0 1529.8,268.0 1529.9,270.0 1530.1,272.0 1530.3,274.0 1530.4,276.0 1530.6,278.0 1530.8,280.0 1530.9,282.0 1531.1,284.0 1531.3,286.0 1531.4,288.0 1531.6,290.0 1531.8,292.0 1531.9,294.0 1532.1,296.0 1532.2,297.9 1532.4,299.9 1532.6,301.9 1532.7,303.9 1532.9,305.9 1533.0,307.9 1533.2,309.9 1533.3,311.9 1533.5,313.8 1533.7,315.8 1533.8,317.8 1534.0,319.8 1534.1,321.8 1534.3,323.8 1534.5,325.8 1534.6,327.7 1534.8,329.7 1534.9,331.7 1535.1,333.7 1535.3,335.7 1535.4,337.7 1535.6,339.6 1535.8,341.6 1535.9,343.6 1536.1,345.6 1536.3,347.6 1536.4,349.5 1536.6,351.5 1536.8,353.5 1537.0,355.5 1537.1,357.5 1537.3,359.5 1537.5,361.4 1537.7,363.4 1537.9,365.4 1538.1,367.4 1538.3,369.4 1538.5,371.3 1538.7,373.3 1538.9,375.3 1539.1,377.3 1539.3,379.3 1539.5,381.2 1539.7,383.2 1539.9,385.2 1540.1,387.2 1540.3,389.2 1540.6,391.2 1540.8,393.1 1541.0,395.1 1541.3,397.1 1541.5,399.1 1541.7,401.1 1542.0,403.1 1542.2,405.1 1542.5,407.0 1542.7,409.0 1543.0,411.0 1543.3,413.0 1543.5,415.0 1543.8,417.0 1544.1,419.0 1544.4,420.9 1544.6,422.9 1544.9,424.9 1545.2,426.9 1545.5,428.9 1545.8,430.9 1546.1,432.9 1546.5,434.9 1546.8,436.9 1547.1,438.9 1547.4,440.9 1547.8,442.9 1548.1,444.8 1548.5,446.8 1548.8,448.8 1549.2,450.8 1549.5,452.8 1549.9,454.8 1550.3,456.8 1550.6,458.8 1551.0,460.8 1551.4,462.8 1551.8,464.8 1552.2,466.8 1552.6,468.8 1553.1,470.9 1553.5,472.9 1553.9,474.9 1554.4,476.9 1554.8,478.9 1555.3,480.9 1555.7,482.9 1556.2,484.9 1556.7,486.9 1557.1,488.9 1557.6,491.0 1558.1,493.0 1558.6,495.0 1559.1,497.0 1559.7,499.0 1560.2,501.0 1560.8,503.0 1561.3,505.0 1561.9,506.9 1562.6,508.8 1563.3,510.7 1564.0,512.6 1564.7,514.4 1565.5,516.2 1566.3,517.9 1567.2,519.6 1568.2,521.2 1569.2,522.8 1570.2,524.3 1571.3,525.8 1572.5,527.2 1573.8,528.5 1575.1,529.7 1576.5,530.8 1578.0,531.9 1579.5,532.9 1581.2,533.8 1582.9,534.6 1584.6,535.3 1586.5,536.0 1588.3,536.6 1590.3,537.1 1592.2,537.6 1594.2,538.1 1596.2,538.5 1598.3,538.9 1600.3,539.2 1602.4,539.5 1604.5,539.8 1606.5,540.1 1608.6,540.3 1610.6,540.6 1612.7,540.8 1614.7,541.0 1616.8,541.2 1618.8,541.4 1620.9,541.5 1622.9,541.7 1624.9,541.8 1627.0,542.0 1629.0,542.1 1631.0,542.2 1633.0,542.3 1635.0,542.3 1637.1,542.4 1639.1,542.5 1641.1,542.5 1643.1,542.5 1645.1,542.6 1647.1,542.6 1649.1,542.6 1651.1,542.6 1653.1,542.6 1655.1,542.6 1657.1,542.5 1659.1,542.5 1661.1,542.4 1663.1,542.4 1665.0,542.3 1667.0,542.3 1669.0,542.2 1671.0,542.1 1673.0,542.1 1675.0,542.0 1676.9,541.9 1678.9,541.8 1680.9,541.7 1682.9,541.6 1684.9,541.5 1686.8,541.4 1688.8,541.3 1690.8,541.2 1692.8,541.1 1694.7,541.0 1696.7,540.9 1698.7,540.8 1700.7,540.6 1702.6,540.5 1704.6,540.4 1706.6,540.3 1708.6,540.2 1710.5,540.1 1712.5,540.0 1714.5,539.9 1716.5,539.8 1718.5,539.7 1720.4,539.6 1722.4,539.5 1724.4,539.4 1726.4,539.4 1728.4,539.3 1730.4,539.2 1732.3,539.1 1734.3,539.1 1736.3,539.0 1738.3,539.0 1740.3,539.0 1742.3,538.9 1744.3,538.9 1746.3,538.9 1748.3,538.9 1750.3,538.9 1752.3,538.9 1754.3,538.9 1756.3,538.9 1758.3,539.0 1760.4,539.0 1762.4,539.1 1764.4,539.2 1766.4,539.3 1768.5,539.3 1770.5,539.5 1772.5,539.6 1774.5,539.7 1776.6,539.9 1778.6,540.0 1780.7,540.2 1782.7,540.4 1784.8,540.6 1786.8,540.8 1788.9,541.0 1791.0,541.3 1793.0,541.6" stroke="#0000FF" stroke-width="3.9" fill="none" stroke-linejoin="round"/>
<path d="M1426.4,548.6 1428.7,549.2 1431.0,549.7 1433.2,550.0 1435.4,550.2 1437.5,550.3 1439.6,550.3 1441.7,550.1 1443.7,549.9 1445.7,549.6 1447.6,549.1 1449.5,548.6 1451.4,548.0 1453.2,547.3 1454.9,546.5 1456.6,545.6 1458.3,544.6 1460.0,543.6 1461.5,542.5 1463.1,541.3 1464.6,540.1 1466.1,538.8 1467.5,537.4 1468.8,536.0 1470.2,534.6 1471.5,533.0 1472.7,531.5 1473.9,529.9 1475.1,528.3 1476.2,526.6 1477.2,524.9 1478.3,523.2 1479.3,521.4 1480.2,519.7 1481.1,517.9 1481.9,516.1 1482.8,514.3 1483.5,512.4 1484.3,510.6 1485.0,508.7 1485.6,506.9 1486.2,505.0 1486.8,503.1 1487.4,501.2 1488.0,499.3 1488.5,497.3 1489.0,495.4 1489.4,493.5 1489.9,491.5 1490.3,489.5 1490.7,487.6 1491.1,485.6 1491.4,483.6 1491.8,481.7 1492.1,479.7 1492.4,477.7 1492.8,475.7 1493.1,473.7 1493.4,471.7 1493.7,469.7 1494.0,467.7 1494.3,465.7 1494.6,463.8 1494.9,461.8 1495.1,459.8 1495.4,457.8 1495.7,455.8 1496.0,453.8 1496.3,451.8 1496.6,449.8 1496.8,447.8 1497.1,445.8 1497.4,443.9 1497.7,441.9 1497.9,439.9 1498.2,437.9 1498.5,435.9 1498.7,433.9 1499.0,431.9 1499.2,429.9 1499.5,428.0 1499.7,426.0 1500.0,424.0 1500.3,422.0 1500.5,420.0 1500.8,418.0 1501.0,416.0 1501.2,414.1 1501.5,412.1 1501.7,410.1 1502.0,408.1 1502.2,406.1 1502.4,404.1 1502.7,402.1 1502.9,400.2 1503.1,398.2 1503.4,396.2 1503.6,394.2 1503.8,392.2 1504.0,390.2 1504.3,388.3 1504.5,386.3 1504.7,384.3 1504.9,382.3 1505.1,380.3 1505.3,378.3 1505.5,376.3 1505.7,374.3 1506.0,372.4 1506.2,370.4 1506.4,368.4 1506.6,366.4 1506.8,364.4 1507.0,362.4 1507.2,360.4 1507.3,358.4 1507.5,356.5 1507.7,354.5 1507.9,352.5 1508.1,350.5 1508.3,348.5 1508.5,346.5 1508.7,344.5 1508.8,342.5 1509.0,340.5 1509.2,338.5 1509.4,336.6 1509.5,334.6 1509.7,332.6 1509.9,330.6 1510.0,328.6 1510.2,326.6 1510.4,324.6 1510.5,322.6 1510.7,320.6 1510.9,318.6 1511.0,316.6 1511.2,314.6 1511.4,312.6 1511.5,310.6 1511.7,308.6 1511.8,306.6 1512.0,304.6 1512.1,302.6 1512.3,300.6 1512.4,298.6 1512.6,296.6 1512.7,294.6 1512.9,292.6 1513.0,290.6 1513.2,288.6 1513.3,286.6 1513.5,284.6 1513.6,282.6 1513.8,280.6 1513.9,278.6 1514.1,276.6 1514.2,274.6 1514.4,272.6 1514.5,270.6 1514.7,268.6 1514.8,266.6 1515.0,264.6 1515.1,262.6 1515.3,260.6 1515.4,258.6 1515.6,256.6 1515.7,254.6 1515.9,252.6 1516.0,250.6 1516.1,248.6 1516.3,246.6 1516.4,244.6 1516.6,242.6 1516.7,240.6 1516.9,238.6 1517.0,236.6 1517.2,234.6 1517.3,232.6 1517.5,230.6 1517.6,228.6 1517.8,226.6 1518.0,224.6 1518.1,222.6 1518.3,220.6 1518.4,218.6 1518.6,216.6 1518.7,214.6 1518.9,212.6 1519.1,210.6 1519.2,208.6 1519.4,206.6 1519.5,204.6 1519.7,202.6 1519.9,200.6 1520.0,198.6 1520.2,196.6 1520.4,194.6 1520.5,192.6 1520.7,190.6 1520.9,188.6 1521.1,186.6 1521.2,184.6 1521.4,182.6 1521.6,180.6 1521.8,178.6 1522.0,176.6 1522.2,174.6 1522.3,172.6 1522.5,170.6 1522.7,168.6 1522.9,166.6 1523.1,164.6 1523.3,162.6 1523.5,160.6 1523.7,158.6 1523.9,156.6 1524.1,154.6 1524.3,152.6 1524.5,150.6 1524.8,148.6 1525.0,146.7 1525.2,144.7 1525.4,142.7 1525.6,140.7 1525.9,138.7 1526.1,136.7 1526.3,134.7 1526.5,132.7 1526.8,130.7 1527.0,128.7 1527.2,126.7 1527.4,124.7 1527.7,122.7 1527.9,120.8 1528.1,118.8 1528.3,116.8 1528.5,114.8 1528.7,112.8 1528.9,110.9 1529.1,108.9 1529.3,106.9 1529.5,104.9 1529.7,103.0 1529.8,101.0 1530.0,99.0 1530.1,97.1 1530.2,95.1 1530.3,93.2 1530.4,91.2 1530.5,89.3 1530.6,87.3 1530.7,85.4 1530.9,83.4 1531.0,81.4 1531.2,79.4 1531.4,77.4 1531.7,75.4 1532.1,73.3 1532.5,71.2 1533.0,69.1 1533.6,66.9 1534.2,64.7 1535.0,62.5 1535.9,60.4 1536.9,58.6 1538.0,57.5 1539.2,57.3 1540.5,58.1 1541.8,59.6 1543.0,61.6 1543.9,63.8 1544.7,66.1 1545.3,68.4 1545.8,70.6 1546.2,72.7 1546.5,74.6 1546.7,76.6 1546.9,78.5 1547.0,80.3 1547.2,82.2 1547.3,84.1 1547.5,86.1 1547.7,88.0 1547.8,89.9 1548.0,91.9 1548.2,93.8 1548.3,95.8 1548.5,97.8 1548.7,99.8 1548.8,101.8 1549.0,103.8 1549.2,105.8 1549.4,107.8 1549.6,109.8 1549.7,111.8 1549.9,113.8 1550.1,115.8 1550.3,117.9 1550.5,119.9 1550.7,121.9 1550.9,123.9 1551.0,126.0 1551.2,128.0 1551.4,130.0 1551.6,132.0 1551.8,134.0 1552.0,136.0 1552.2,138.0 1552.4,140.0 1552.6,142.0 1552.8,144.0 1553.0,146.0 1553.2,148.0 1553.4,150.0 1553.6,152.0 1553.9,154.0 1554.1,156.0 1554.3,158.0 1554.5,160.0 1554.7,162.0 1554.9,164.0 1555.1,165.9 1555.3,167.9 1555.5,169.9 1555.7,171.9 1555.9,173.9 1556.1,175.8 1556.3,177.8 1556.5,179.8 1556.7,181.8 1557.0,183.8 1557.2,185.7 1557.4,187.7 1557.6,189.7 1557.8,191.7 1557.9,193.6 1558.1,195.6 1558.3,197.6 1558.5,199.6 1558.7,201.6 1558.9,203.5 1559.1,205.5 1559.3,207.5 1559.5,209.5 1559.7,211.5 1559.8,213.4 1560.0,215.4 1560.2,217.4 1560.4,219.4 1560.5,221.4 1560.7,223.4 1560.9,225.4 1561.0,227.4 1561.2,229.4 1561.3,231.4 1561.5,233.4 1561.6,235.4 1561.8,237.4 1561.9,239.4 1562.1,241.4 1562.2,243.4 1562.4,245.4 1562.5,247.4 1562.7,249.4 1562.8,251.4 1563.0,253.4 1563.1,255.5 1563.3,257.5 1563.4,259.5 1563.5,261.5 1563.7,263.5 1563.8,265.5 1564.0,267.5 1564.2,269.5 1564.3,271.6 1564.5,273.6 1564.6,275.6 1564.8,277.6 1565.0,279.6 1565.1,281.6 1565.3,283.6 1565.5,285.6 1565.6,287.7 1565.8,289.7 1566.0,291.7 1566.2,293.7 1566.4,295.7 1566.6,297.7 1566.8,299.7 1567.0,301.7 1567.2,303.7 1567.5,305.7 1567.7,307.7 1567.9,309.7 1568.2,311.7 1568.4,313.7 1568.7,315.7 1569.0,317.7 1569.2,319.7 1569.5,321.7 1569.8,323.7 1570.1,325.7 1570.4,327.6 1570.7,329.6 1571.0,331.6 1571.3,333.6 1571.7,335.5 1572.0,337.5 1572.4,339.5 1572.7,341.4 1573.1,343.4 1573.5,345.4 1573.9,347.3 1574.3,349.3 1574.7,351.2 1575.2,353.2 1575.6,355.1 1576.1,357.1 1576.5,359.0 1577.0,360.9 1577.5,362.9 1578.0,364.8 1578.5,366.7 1579.0,368.6 1579.6,370.5 1580.1,372.5 1580.7,374.4 1581.3,376.3 1581.9,378.2 1582.5,380.1 1583.1,381.9 1583.7,383.8 1584.4,385.7 1585.1,387.6 1585.7,389.5 1586.4,391.3 1587.2,393.2 1587.9,395.0 1588.6,396.9 1589.4,398.7 1590.2,400.6 1591.0,402.4 1591.8,404.2 1592.6,406.0 1593.5,407.8 1594.3,409.6 1595.2,411.4 1596.1,413.2 1597.1,415.0 1598.0,416.7 1599.0,418.5 1599.9,420.2 1601.0,421.9 1602.0,423.7 1603.0,425.4 1604.1,427.0 1605.2,428.7 1606.3,430.4 1607.4,432.0 1608.5,433.6 1609.7,435.3 1610.9,436.9 1612.1,438.4 1613.4,440.0 1614.6,441.5 1615.9,443.1 1617.2,444.6 1618.5,446.1 1619.9,447.6 1621.3,449.0 1622.6,450.5 1624.0,451.9 1625.4,453.3 1626.9,454.8 1628.3,456.2 1629.8,457.6 1631.2,459.0 1632.7,460.4 1634.1,461.8 1635.6,463.1 1637.1,464.5 1638.6,465.9 1640.1,467.3 1641.5,468.7 1643.0,470.0 1644.5,471.4 1646.0,472.8 1647.4,474.2 1648.9,475.6 1650.4,477.0 1651.8,478.4 1653.2,479.8 1654.7,481.3 1656.1,482.7 1657.5,484.2 1658.8,485.6 1660.2,487.1 1661.5,488.6 1662.9,490.1 1664.2,491.7 1665.4,493.2 1666.7,494.8 1667.9,496.4 1669.2,497.9 1670.4,499.5 1671.7,501.1 1672.9,502.6 1674.2,504.2 1675.5,505.7 1676.8,507.2 1678.1,508.6 1679.5,510.0 1680.9,511.4 1682.4,512.8 1683.9,514.0 1685.4,515.3 1687.0,516.5 1688.6,517.7 1690.2,518.8 1691.9,519.9 1693.6,520.9 1695.4,521.9 1697.1,522.8 1698.9,523.8 1700.8,524.6 1702.6,525.5 1704.5,526.3 1706.3,527.0 1708.2,527.7 1710.2,528.4 1712.1,529.1 1714.0,529.7 1716.0,530.3 1718.0,530.8 1720.0,531.3 1721.9,531.8 1723.9,532.2 1725.9,532.6 1727.9,533.0 1729.9,533.3 1731.9,533.6 1733.9,533.9 1735.9,534.1 1737.9,534.3 1739.9,534.5 1741.9,534.7 1743.9,534.8 1745.8,535.0 1747.8,535.1 1749.8,535.2 1751.8,535.3 1753.7,535.4 1755.7,535.5 1757.7,535.6 1759.7,535.7 1761.6,535.8 1763.6,535.9 1765.6,536.1 1767.5,536.2 1769.5,536.4 1771.5,536.6 1773.4,536.8 1775.4,537.1 1777.4,537.4 1779.3,537.7 1781.3,538.0 1783.3,538.4 1785.3,538.9 1787.2,539.3 1789.2,539.9 1791.2,540.5 1793.2,541.1" stroke="#0000FF" stroke-width="3.9" fill="none" stroke-linejoin="round" stroke-dasharray="0.0 0.0 23.4 7.8 25.5 10.0 21.9 10.0 20.1 10.1 22.1 10.0 20.0 10.0 20.0 10.0 22.0 8.0 22.0 8.0 22.0 8.0 22.1 10.0 22.1 10.0 24.1 8.0 22.1 8.0 18.1 10.0 21.9 7.9 21.9 11.2 20.2 10.2 19.4 10.0 20.3 10.1 22.1 8.0 23.9 6.0 23.9 8.0 22.1 6.0 24.2 8.1 24.2 6.0 24.0 6.0 21.9 8.0 25.9 10.0 25.9 10.0 30.1 12.1 28.2 12.0 27.8 10.0 24.4 8.1 19.9 9.9 32.1"/>
<text transform="translate(1107.0,613.0) scale(1,1.045)" font-size="41" font-weight="bold" text-anchor="middle">400</text>
<text transform="translate(1259.9,613.0) scale(1,1.045)" font-size="41" font-weight="bold" text-anchor="middle">500</text>
<text transform="translate(1412.8,613.0) scale(1,1.045)" font-size="41" font-weight="bold" text-anchor="middle">600</text>
<text transform="translate(1565.7,613.0) scale(1,1.045)" font-size="41" font-weight="bold" text-anchor="middle">700</text>
<text transform="translate(1718.6,613.0) scale(1,1.045)" font-size="41" font-weight="bold" text-anchor="middle">800</text>
<text transform="translate(1047.7,561.6) scale(1,1.045)" font-size="41" font-weight="bold" text-anchor="end">0.0</text>
<text transform="translate(1047.7,463.3) scale(1,1.045)" font-size="41" font-weight="bold" text-anchor="end">0.2</text>
<text transform="translate(1047.7,365.0) scale(1,1.045)" font-size="41" font-weight="bold" text-anchor="end">0.4</text>
<text transform="translate(1047.7,266.8) scale(1,1.045)" font-size="41" font-weight="bold" text-anchor="end">0.6</text>
<text transform="translate(1047.7,168.5) scale(1,1.045)" font-size="41" font-weight="bold" text-anchor="end">0.8</text>
<text transform="translate(1047.7,70.2) scale(1,1.045)" font-size="41" font-weight="bold" text-anchor="end">1.0</text>
<text x="1436.5" y="668.0" font-size="45" font-weight="bold" text-anchor="middle">Wavelength (nm)</text>
<text transform="translate(967.4,291.1) rotate(-90)" font-size="44.6" font-weight="bold" text-anchor="middle">Normalised Intensity</text>
<text x="1146.3" y="95.4" font-size="46" font-weight="bold" text-anchor="middle">2</text>
<text x="1696.0" y="203.8" font-size="39" font-weight="bold" text-anchor="middle">DL</text>
<path d="M1685.7,219.8l11,11 -11,11 -11,-11z" fill="#C00000"/>
<path d="M1685.7,246.3V562.6" stroke="#C00000" stroke-width="8.2" stroke-dasharray="7.8 7.55"/>
<path d="M1674.7,562.6h22l-11,22z" fill="#C00000"/>
<path d="M206.6,1215.8V1223.8 M359.8,1215.8V1223.8 M513.0,1215.8V1223.8 M666.2,1215.8V1223.8 M819.4,1215.8V1223.8 M176.0,1215.8H168.0 M176.0,1117.3H168.0 M176.0,1018.9H168.0 M176.0,920.4H168.0 M176.0,822.0H168.0 M176.0,723.5H168.0" stroke="#555" stroke-width="2.2" fill="none"/>
<path d="M244.9,1215.8V1211.8 M244.9,698.7V703.7 M283.2,1215.8V1211.8 M283.2,698.7V703.7 M321.5,1215.8V1211.8 M321.5,698.7V703.7 M398.1,1215.8V1211.8 M398.1,698.7V703.7 M436.4,1215.8V1211.8 M436.4,698.7V703.7 M474.7,1215.8V1211.8 M474.7,698.7V703.7 M551.3,1215.8V1211.8 M551.3,698.7V703.7 M589.6,1215.8V1211.8 M589.6,698.7V703.7 M627.9,1215.8V1211.8 M627.9,698.7V703.7 M704.5,1215.8V1211.8 M704.5,698.7V703.7 M742.8,1215.8V1211.8 M742.8,698.7V703.7 M781.1,1215.8V1211.8 M781.1,698.7V703.7 M857.7,1215.8V1211.8 M857.7,698.7V703.7 M176.0,1196.1H181.3 M894.6,1196.1H890.6 M176.0,1176.4H181.3 M894.6,1176.4H890.6 M176.0,1156.7H181.3 M894.6,1156.7H890.6 M176.0,1137.0H181.3 M894.6,1137.0H890.6 M176.0,1097.6H181.3 M894.6,1097.6H890.6 M176.0,1078.0H181.3 M894.6,1078.0H890.6 M176.0,1058.3H181.3 M894.6,1058.3H890.6 M176.0,1038.6H181.3 M894.6,1038.6H890.6 M176.0,999.2H181.3 M894.6,999.2H890.6 M176.0,979.5H181.3 M894.6,979.5H890.6 M176.0,959.8H181.3 M894.6,959.8H890.6 M176.0,940.1H181.3 M894.6,940.1H890.6 M176.0,900.7H181.3 M894.6,900.7H890.6 M176.0,881.0H181.3 M894.6,881.0H890.6 M176.0,861.3H181.3 M894.6,861.3H890.6 M176.0,841.7H181.3 M894.6,841.7H890.6 M176.0,802.3H181.3 M894.6,802.3H890.6 M176.0,782.6H181.3 M894.6,782.6H890.6 M176.0,762.9H181.3 M894.6,762.9H890.6 M176.0,743.2H181.3 M894.6,743.2H890.6 M176.0,703.8H181.3 M894.6,703.8H890.6" stroke="#333" stroke-width="2" fill="none"/>
<rect x="176.0" y="698.7" width="718.6" height="517.1" fill="none" stroke="#444" stroke-width="2.2"/>
<path d="M175.7,1120.3 177.4,1121.2 179.1,1122.0 180.8,1122.7 182.6,1123.2 184.4,1123.7 186.3,1124.0 188.2,1124.3 190.1,1124.5 192.1,1124.6 194.1,1124.7 196.1,1124.7 198.1,1124.7 200.1,1124.6 202.2,1124.5 204.3,1124.3 206.4,1124.2 208.4,1124.0 210.5,1123.8 212.6,1123.6 214.7,1123.4 216.8,1123.3 218.9,1123.1 220.9,1123.0 223.0,1123.0 225.0,1122.9 227.0,1123.0 229.0,1123.1 230.9,1123.2 232.8,1123.4 234.7,1123.8 236.6,1124.1 238.4,1124.6 240.2,1125.2 242.0,1125.9 243.7,1126.6 245.4,1127.4 247.0,1128.3 248.7,1129.3 250.3,1130.3 251.8,1131.4 253.4,1132.5 255.0,1133.7 256.5,1135.0 258.0,1136.2 259.5,1137.6 260.9,1139.0 262.4,1140.4 263.8,1141.8 265.3,1143.3 266.7,1144.8 268.1,1146.3 269.5,1147.9 271.0,1149.4 272.4,1151.0 273.8,1152.6 275.2,1154.2 276.6,1155.7 278.0,1157.3 279.4,1158.9 280.9,1160.4 282.3,1162.0 283.8,1163.5 285.2,1165.0 286.7,1166.5 288.2,1168.0 289.7,1169.4 291.2,1170.8 292.7,1172.1 294.3,1173.4 295.9,1174.7 297.5,1176.0 299.1,1177.2 300.7,1178.4 302.3,1179.5 304.0,1180.6 305.6,1181.7 307.3,1182.7 309.0,1183.7 310.7,1184.7 312.4,1185.6 314.2,1186.5 315.9,1187.4 317.7,1188.2 319.5,1189.0 321.2,1189.8 323.0,1190.5 324.9,1191.2 326.7,1191.9 328.5,1192.5 330.3,1193.1 332.2,1193.7 334.1,1194.2 335.9,1194.7 337.8,1195.1 339.7,1195.6 341.6,1196.0 343.5,1196.3 345.4,1196.6 347.4,1196.9 349.3,1197.2 351.2,1197.4 353.2,1197.6 355.1,1197.7 357.1,1197.9 359.1,1197.9 361.0,1198.0 363.0,1198.0 365.0,1198.0 367.0,1198.0 369.0,1197.9 371.0,1197.8 373.0,1197.6 375.0,1197.4 377.0,1197.2 379.0,1197.0 381.0,1196.7 383.0,1196.4 385.0,1196.1 387.0,1195.7 389.0,1195.3 391.0,1194.9 393.0,1194.4 395.0,1193.9 397.0,1193.4 399.0,1192.8 401.0,1192.2 403.0,1191.6 404.9,1191.0 406.9,1190.3 408.8,1189.6 410.8,1188.9 412.7,1188.2 414.6,1187.4 416.5,1186.6 418.4,1185.8 420.2,1184.9 422.1,1184.0 423.9,1183.1 425.8,1182.2 427.6,1181.2 429.4,1180.3 431.1,1179.3 432.9,1178.2 434.6,1177.2 436.3,1176.1 438.0,1175.0 439.7,1173.9 441.3,1172.7 442.9,1171.6 444.5,1170.4 446.1,1169.2 447.7,1167.9 449.2,1166.7 450.7,1165.4 452.2,1164.1 453.6,1162.8 455.0,1161.5 456.5,1160.1 457.8,1158.7 459.2,1157.3 460.6,1155.9 461.9,1154.5 463.2,1153.0 464.5,1151.6 465.7,1150.1 467.0,1148.6 468.2,1147.1 469.4,1145.6 470.6,1144.0 471.8,1142.5 472.9,1140.9 474.1,1139.3 475.2,1137.7 476.3,1136.1 477.4,1134.4 478.4,1132.8 479.5,1131.1 480.5,1129.4 481.5,1127.7 482.5,1126.0 483.5,1124.3 484.5,1122.6 485.5,1120.9 486.4,1119.1 487.3,1117.4 488.3,1115.6 489.2,1113.8 490.1,1112.0 491.0,1110.2 491.8,1108.4 492.7,1106.6 493.5,1104.8 494.4,1103.0 495.2,1101.1 496.0,1099.3 496.8,1097.4 497.6,1095.6 498.4,1093.7 499.2,1091.8 499.9,1089.9 500.7,1088.1 501.5,1086.2 502.2,1084.3 502.9,1082.4 503.7,1080.5 504.4,1078.6 505.1,1076.7 505.8,1074.7 506.5,1072.8 507.2,1070.9 507.9,1069.0 508.6,1067.1 509.3,1065.1 510.0,1063.2 510.6,1061.3 511.3,1059.3 512.0,1057.4 512.6,1055.5 513.3,1053.6 513.9,1051.6 514.6,1049.7 515.2,1047.8 515.9,1045.9 516.5,1043.9 517.2,1042.0 517.8,1040.1 518.5,1038.2 519.1,1036.2 519.7,1034.3 520.4,1032.4 521.0,1030.5 521.6,1028.6 522.3,1026.7 522.9,1024.7 523.5,1022.8 524.1,1020.9 524.7,1019.0 525.4,1017.1 526.0,1015.2 526.6,1013.3 527.2,1011.3 527.8,1009.4 528.4,1007.5 529.0,1005.6 529.6,1003.7 530.2,1001.8 530.8,999.9 531.4,998.0 532.0,996.1 532.5,994.1 533.1,992.2 533.7,990.3 534.3,988.4 534.9,986.5 535.4,984.6 536.0,982.7 536.6,980.8 537.1,978.9 537.7,977.0 538.2,975.0 538.8,973.1 539.3,971.2 539.9,969.3 540.4,967.4 541.0,965.5 541.5,963.6 542.1,961.7 542.6,959.8 543.1,957.8 543.7,955.9 544.2,954.0 544.7,952.1 545.2,950.2 545.8,948.3 546.3,946.4 546.8,944.4 547.3,942.5 547.8,940.6 548.3,938.7 548.8,936.8 549.3,934.8 549.8,932.9 550.3,931.0 550.8,929.1 551.2,927.2 551.7,925.2 552.2,923.3 552.7,921.4 553.2,919.5 553.6,917.5 554.1,915.6 554.6,913.7 555.0,911.7 555.5,909.8 555.9,907.9 556.4,905.9 556.8,904.0 557.3,902.0 557.7,900.1 558.1,898.2 558.6,896.2 559.0,894.3 559.4,892.3 559.8,890.4 560.3,888.4 560.7,886.5 561.1,884.5 561.5,882.6 561.9,880.6 562.3,878.7 562.7,876.7 563.1,874.7 563.5,872.8 563.9,870.8 564.3,868.8 564.7,866.9 565.0,864.9 565.4,862.9 565.8,861.0 566.2,859.0 566.5,857.0 566.9,855.0 567.2,853.0 567.6,851.1 568.0,849.1 568.3,847.1 568.7,845.1 569.0,843.1 569.3,841.1 569.7,839.1 570.0,837.1 570.4,835.2 570.7,833.2 571.1,831.2 571.4,829.2 571.7,827.2 572.1,825.2 572.4,823.2 572.8,821.2 573.1,819.2 573.5,817.2 573.8,815.2 574.2,813.2 574.5,811.3 574.9,809.3 575.2,807.3 575.6,805.3 575.9,803.3 576.3,801.3 576.7,799.3 577.0,797.4 577.4,795.4 577.8,793.4 578.2,791.4 578.6,789.5 579.0,787.5 579.4,785.5 579.8,783.6 580.2,781.6 580.6,779.6 581.0,777.7 581.4,775.7 581.9,773.8 582.3,771.8 582.7,769.9 583.2,768.0 583.6,766.0 584.1,764.1 584.6,762.2 585.1,760.2 585.6,758.3 586.1,756.4 586.6,754.5 587.1,752.6 587.6,750.7 588.1,748.8 588.7,746.9 589.2,745.0 589.7,743.0 590.3,741.1 590.8,739.2 591.3,737.2 591.9,735.2 592.6,733.2 593.3,731.3 594.2,729.3 595.4,727.4 596.7,725.6 598.2,724.2 599.7,723.6 601.2,723.9 602.7,725.1 604.0,726.8 605.2,728.6 606.2,730.5 607.0,732.4 607.8,734.4 608.4,736.4 608.9,738.4 609.4,740.4 609.8,742.4 610.2,744.4 610.6,746.4 611.0,748.3 611.3,750.3 611.7,752.2 612.1,754.1 612.6,756.0 613.0,757.9 613.4,759.8 613.8,761.8 614.2,763.7 614.7,765.6 615.1,767.6 615.5,769.5 615.8,771.5 616.2,773.4 616.6,775.4 617.0,777.4 617.3,779.4 617.7,781.4 618.1,783.4 618.4,785.3 618.7,787.3 619.0,789.3 619.4,791.3 619.7,793.3 620.0,795.3 620.3,797.3 620.5,799.3 620.8,801.3 621.1,803.2 621.4,805.2 621.6,807.2 621.9,809.2 622.1,811.2 622.3,813.2 622.6,815.2 622.8,817.2 623.0,819.2 623.2,821.2 623.4,823.2 623.7,825.2 623.9,827.1 624.1,829.1 624.2,831.1 624.4,833.1 624.6,835.1 624.8,837.1 625.0,839.1 625.2,841.1 625.3,843.1 625.5,845.1 625.7,847.1 625.8,849.1 626.0,851.1 626.2,853.1 626.3,855.1 626.5,857.1 626.6,859.0 626.8,861.0 627.0,863.0 627.1,865.0 627.3,867.0 627.4,869.0 627.6,871.0 627.7,873.0 627.9,875.0 628.1,877.0 628.2,879.0 628.4,881.0 628.5,883.0 628.7,885.0 628.9,887.0 629.0,889.0 629.2,891.0 629.4,893.0 629.5,894.9 629.7,896.9 629.9,898.9 630.1,900.9 630.2,902.9 630.4,904.9 630.6,906.9 630.8,908.9 631.0,910.9 631.2,912.9 631.4,914.9 631.6,916.9 631.8,918.9 632.0,920.9 632.2,922.9 632.4,924.9 632.6,926.8 632.8,928.8 633.0,930.8 633.2,932.8 633.4,934.8 633.6,936.8 633.8,938.8 634.0,940.8 634.3,942.8 634.5,944.8 634.7,946.8 634.9,948.8 635.1,950.8 635.4,952.7 635.6,954.7 635.8,956.7 636.0,958.7 636.3,960.7 636.5,962.7 636.7,964.7 637.0,966.7 637.2,968.7 637.4,970.7 637.7,972.7 637.9,974.6 638.2,976.6 638.4,978.6 638.6,980.6 638.9,982.6 639.1,984.6 639.4,986.6 639.6,988.6 639.9,990.6 640.1,992.6 640.4,994.5 640.6,996.5 640.9,998.5 641.1,1000.5 641.4,1002.5 641.6,1004.5 641.9,1006.5 642.1,1008.5 642.4,1010.4 642.6,1012.4 642.9,1014.4 643.1,1016.4 643.4,1018.4 643.7,1020.4 643.9,1022.4 644.2,1024.4 644.4,1026.3 644.7,1028.3 644.9,1030.3 645.2,1032.3 645.5,1034.3 645.7,1036.3 646.0,1038.3 646.2,1040.2 646.5,1042.2 646.8,1044.2 647.0,1046.2 647.3,1048.2 647.5,1050.2 647.8,1052.1 648.1,1054.1 648.3,1056.1 648.6,1058.1 648.9,1060.1 649.1,1062.1 649.4,1064.0 649.6,1066.0 649.9,1068.0 650.2,1070.0 650.4,1072.0 650.7,1073.9 651.0,1075.9 651.2,1077.9 651.5,1079.9 651.8,1081.9 652.0,1083.8 652.3,1085.8 652.6,1087.8 652.9,1089.8 653.2,1091.8 653.5,1093.7 653.7,1095.7 654.0,1097.7 654.3,1099.7 654.6,1101.6 655.0,1103.6 655.3,1105.6 655.6,1107.6 655.9,1109.5 656.2,1111.5 656.6,1113.5 656.9,1115.5 657.3,1117.4 657.6,1119.4 658.0,1121.4 658.3,1123.3 658.7,1125.3 659.1,1127.3 659.5,1129.2 659.9,1131.2 660.3,1133.2 660.7,1135.1 661.1,1137.1 661.5,1139.1 662.0,1141.0 662.4,1143.0 662.9,1145.0 663.3,1146.9 663.8,1148.9 664.3,1150.9 664.8,1152.8 665.3,1154.8 665.8,1156.7 666.3,1158.7 666.8,1160.7 667.4,1162.6 667.9,1164.6 668.5,1166.5 669.1,1168.5 669.7,1170.4 670.3,1172.4 670.9,1174.3 671.6,1176.2 672.3,1178.1 673.0,1179.9 673.8,1181.8 674.6,1183.6 675.4,1185.3 676.3,1187.1 677.3,1188.8 678.3,1190.4 679.4,1192.0 680.5,1193.5 681.7,1195.0 683.0,1196.4 684.3,1197.7 685.8,1199.0 687.3,1200.2 688.9,1201.3 690.5,1202.4 692.3,1203.3 694.2,1204.2 696.1,1205.0 698.1,1205.7 700.2,1206.3 702.3,1206.8 704.4,1207.3 706.6,1207.7 708.7,1208.0 710.9,1208.2 713.0,1208.4 715.1,1208.5 717.1,1208.5 719.1,1208.5 721.1,1208.5 723.0,1208.4 724.9,1208.3 726.8,1208.2 728.7,1208.1 730.6,1208.0 732.5,1208.0 734.4,1207.9 736.3,1207.9 738.2,1208.0 740.1,1208.1 742.0,1208.2 744.0,1208.5 745.9,1208.7 747.9,1209.0 749.9,1209.4 751.9,1209.7 753.9,1210.2 755.9,1210.6 757.8,1211.1 759.8,1211.6 761.8,1212.2 763.8,1212.7 765.8,1213.3 767.8,1213.9 769.8,1214.4 771.8,1214.9 773.7,1215.4 775.7,1215.9 777.7,1216.2 779.7,1216.5 781.6,1216.7 783.6,1216.9 785.5,1216.9 787.5,1216.7 789.4,1216.5 791.4,1216.2 793.3,1215.7 795.2,1215.2 797.2,1214.7 799.1,1214.1 801.0,1213.5 802.9,1212.9 804.9,1212.3 806.8,1211.7 808.8,1211.2 810.7,1210.8 812.7,1210.4 814.6,1210.0 816.6,1209.7 818.5,1209.5 820.5,1209.3 822.5,1209.2 824.5,1209.1 826.4,1209.0 828.4,1209.0 830.4,1209.1 832.4,1209.1 834.4,1209.3 836.4,1209.4 838.4,1209.6 840.3,1209.8 842.3,1210.0 844.3,1210.3 846.3,1210.5 848.3,1210.8 850.3,1211.2 852.3,1211.5 854.3,1211.8 856.3,1212.2 858.2,1212.6 860.2,1212.9 862.2,1213.3 864.2,1213.7 866.1,1214.1 868.1,1214.5 870.1,1214.8 872.0,1215.2 874.0,1215.6" stroke="#000000" stroke-width="3.4" fill="none" stroke-linejoin="round"/>
<path d="M575.5,1208.8 576.2,1207.0 577.0,1205.1 577.8,1203.2 578.5,1201.3 579.2,1199.4 579.9,1197.5 580.7,1195.7 581.4,1193.8 582.1,1191.9 582.7,1190.0 583.4,1188.1 584.1,1186.2 584.7,1184.3 585.4,1182.4 586.0,1180.5 586.6,1178.6 587.3,1176.7 587.9,1174.8 588.5,1172.8 589.1,1170.9 589.6,1169.0 590.2,1167.1 590.8,1165.2 591.3,1163.3 591.9,1161.3 592.4,1159.4 593.0,1157.5 593.5,1155.6 594.0,1153.6 594.5,1151.7 595.0,1149.8 595.5,1147.8 596.0,1145.9 596.5,1144.0 597.0,1142.0 597.4,1140.1 597.9,1138.1 598.3,1136.2 598.8,1134.2 599.2,1132.3 599.6,1130.3 600.1,1128.4 600.5,1126.4 600.9,1124.5 601.3,1122.5 601.7,1120.6 602.1,1118.6 602.5,1116.7 602.8,1114.7 603.2,1112.7 603.6,1110.8 603.9,1108.8 604.3,1106.8 604.6,1104.9 605.0,1102.9 605.3,1100.9 605.6,1099.0 606.0,1097.0 606.3,1095.0 606.6,1093.1 606.9,1091.1 607.2,1089.1 607.5,1087.1 607.8,1085.1 608.1,1083.2 608.4,1081.2 608.6,1079.2 608.9,1077.2 609.2,1075.2 609.4,1073.3 609.7,1071.3 609.9,1069.3 610.2,1067.3 610.4,1065.3 610.7,1063.3 610.9,1061.3 611.2,1059.3 611.4,1057.3 611.6,1055.4 611.8,1053.4 612.1,1051.4 612.3,1049.4 612.5,1047.4 612.7,1045.4 612.9,1043.4 613.1,1041.4 613.3,1039.4 613.5,1037.4 613.7,1035.4 613.9,1033.4 614.1,1031.4 614.2,1029.4 614.4,1027.4 614.6,1025.4 614.8,1023.4 614.9,1021.4 615.1,1019.4 615.3,1017.4 615.4,1015.4 615.6,1013.4 615.8,1011.4 615.9,1009.3 616.1,1007.3 616.2,1005.3 616.4,1003.3 616.6,1001.3 616.7,999.3 616.9,997.3 617.0,995.3 617.2,993.3 617.3,991.3 617.4,989.3 617.6,987.3 617.7,985.3 617.9,983.3 618.0,981.2 618.1,979.2 618.3,977.2 618.4,975.2 618.6,973.2 618.7,971.2 618.8,969.2 619.0,967.2 619.1,965.2 619.3,963.2 619.4,961.2 619.5,959.1 619.7,957.1 619.8,955.1 619.9,953.1 620.1,951.1 620.2,949.1 620.4,947.1 620.5,945.1 620.6,943.1 620.8,941.1 620.9,939.1 621.1,937.1 621.2,935.0 621.3,933.0 621.5,931.0 621.6,929.0 621.8,927.0 621.9,925.0 622.1,923.0 622.2,921.0 622.4,919.0 622.6,917.0 622.7,915.0 622.9,913.0 623.0,911.0 623.2,909.0 623.4,907.0 623.5,905.0 623.7,903.0 623.9,901.0 624.1,899.0 624.2,897.0 624.4,895.0 624.6,893.0 624.8,891.0 625.0,889.0 625.2,887.0 625.3,885.0 625.5,883.0 625.7,881.0 625.9,879.1 626.1,877.1 626.3,875.1 626.5,873.1 626.7,871.1 626.9,869.1 627.1,867.1 627.3,865.1 627.5,863.1 627.7,861.1 627.9,859.1 628.1,857.1 628.3,855.2 628.5,853.2 628.7,851.2 629.0,849.2 629.2,847.2 629.4,845.2 629.6,843.2 629.8,841.2 630.0,839.3 630.2,837.3 630.4,835.3 630.6,833.3 630.8,831.3 631.1,829.3 631.3,827.3 631.5,825.3 631.7,823.3 631.9,821.4 632.1,819.4 632.3,817.4 632.5,815.4 632.7,813.4 632.9,811.4 633.2,809.4 633.4,807.4 633.6,805.5 633.8,803.5 634.0,801.5 634.2,799.5 634.4,797.5 634.6,795.5 634.8,793.5 635.0,791.5 635.2,789.6 635.4,787.6 635.6,785.6 635.8,783.6 636.0,781.6 636.2,779.6 636.4,777.6 636.6,775.6 636.7,773.6 636.9,771.6 637.1,769.7 637.3,767.7 637.5,765.7 637.7,763.7 637.8,761.7 638.0,759.7 638.2,757.7 638.4,755.7 638.6,753.7 638.7,751.7 638.9,749.7 639.1,747.7 639.3,745.7 639.5,743.6 639.8,741.6 640.0,739.6 640.3,737.5 640.5,735.5 640.9,733.4 641.4,731.4 642.1,729.4 643.1,727.4 644.3,725.5 645.7,724.1 647.1,723.5 648.3,724.2 649.4,725.8 650.4,727.9 651.3,730.1 652.0,732.3 652.6,734.4 653.2,736.6 653.6,738.6 654.0,740.7 654.3,742.7 654.6,744.6 654.8,746.6 654.9,748.6 655.0,750.5 655.1,752.4 655.2,754.3 655.3,756.3 655.4,758.2 655.5,760.1 655.6,762.1 655.7,764.1 655.8,766.0 656.0,768.0 656.1,770.0 656.3,772.0 656.4,774.0 656.6,776.0 656.7,778.0 656.9,780.0 657.1,782.0 657.2,784.0 657.4,786.0 657.6,788.0 657.8,790.0 658.0,792.0 658.1,794.1 658.3,796.1 658.5,798.1 658.7,800.1 658.9,802.1 659.1,804.1 659.3,806.1 659.4,808.1 659.6,810.1 659.8,812.1 660.0,814.1 660.2,816.1 660.4,818.1 660.6,820.1 660.8,822.1 661.0,824.1 661.2,826.1 661.4,828.1 661.6,830.1 661.8,832.1 661.9,834.1 662.1,836.1 662.3,838.1 662.5,840.1 662.7,842.1 662.9,844.1 663.1,846.1 663.3,848.1 663.5,850.0 663.7,852.0 663.9,854.0 664.1,856.0 664.3,858.0 664.5,860.0 664.7,862.0 664.8,864.0 665.0,866.0 665.2,868.0 665.4,870.0 665.6,872.0 665.8,874.0 666.0,876.0 666.1,878.0 666.3,880.0 666.5,882.0 666.7,884.0 666.9,886.0 667.0,888.0 667.2,890.0 667.4,892.0 667.6,894.0 667.7,896.0 667.9,898.0 668.1,900.0 668.2,902.0 668.4,904.0 668.6,906.0 668.7,907.9 668.9,909.9 669.0,911.9 669.2,913.9 669.4,915.9 669.5,917.9 669.7,919.9 669.8,921.9 670.0,923.9 670.1,925.9 670.3,927.9 670.5,929.9 670.6,931.9 670.8,933.9 670.9,935.9 671.1,937.9 671.2,939.9 671.4,941.9 671.6,943.9 671.7,945.9 671.9,947.9 672.1,949.9 672.3,951.9 672.4,953.9 672.6,955.9 672.8,957.9 673.0,959.9 673.2,961.9 673.3,963.9 673.5,965.9 673.7,967.9 673.9,969.9 674.2,971.9 674.4,973.9 674.6,975.9 674.8,977.9 675.0,979.9 675.3,981.9 675.5,983.8 675.7,985.8 676.0,987.8 676.2,989.8 676.5,991.8 676.7,993.8 677.0,995.8 677.3,997.8 677.6,999.7 677.9,1001.7 678.2,1003.7 678.5,1005.7 678.8,1007.7 679.1,1009.7 679.4,1011.6 679.8,1013.6 680.1,1015.6 680.4,1017.6 680.8,1019.6 681.2,1021.5 681.5,1023.5 681.9,1025.5 682.3,1027.5 682.7,1029.4 683.1,1031.4 683.6,1033.4 684.0,1035.3 684.4,1037.3 684.9,1039.3 685.3,1041.2 685.8,1043.2 686.3,1045.2 686.8,1047.1 687.3,1049.1 687.8,1051.0 688.3,1053.0 688.9,1054.9 689.4,1056.9 690.0,1058.8 690.6,1060.8 691.2,1062.7 691.8,1064.6 692.5,1066.5 693.1,1068.4 693.8,1070.3 694.5,1072.2 695.2,1074.1 695.9,1076.0 696.7,1077.8 697.4,1079.6 698.2,1081.5 699.1,1083.3 699.9,1085.1 700.8,1086.9 701.6,1088.6 702.6,1090.4 703.5,1092.1 704.5,1093.8 705.5,1095.5 706.5,1097.2 707.5,1098.9 708.6,1100.5 709.7,1102.1 710.9,1103.7 712.0,1105.3 713.2,1106.9 714.5,1108.4 715.7,1109.9 717.0,1111.4 718.4,1112.8 719.7,1114.3 721.1,1115.7 722.6,1117.0 724.0,1118.4 725.6,1119.7 727.1,1121.0 728.7,1122.2 730.3,1123.5 732.0,1124.7 733.6,1125.9 735.3,1127.1 737.0,1128.3 738.7,1129.5 740.3,1130.7 742.0,1131.9 743.6,1133.2 745.2,1134.4 746.8,1135.8 748.3,1137.1 749.8,1138.5 751.3,1140.0 752.7,1141.5 754.0,1143.0 755.3,1144.6 756.6,1146.2 757.8,1147.8 759.1,1149.4 760.3,1151.1 761.5,1152.8 762.6,1154.4 763.8,1156.1 765.0,1157.8 766.2,1159.5 767.4,1161.1 768.6,1162.8 769.8,1164.4 771.0,1166.0 772.3,1167.5 773.6,1169.1 774.9,1170.6 776.2,1172.0 777.6,1173.5 779.0,1174.9 780.5,1176.2 781.9,1177.5 783.4,1178.8 784.9,1180.1 786.5,1181.3 788.0,1182.5 789.6,1183.7 791.2,1184.8 792.9,1185.9 794.5,1187.0 796.2,1188.0 797.9,1189.0 799.6,1190.0 801.3,1191.0 803.1,1191.9 804.9,1192.8 806.7,1193.6 808.5,1194.5 810.3,1195.3 812.1,1196.1 814.0,1196.8 815.8,1197.6 817.7,1198.3 819.6,1198.9 821.5,1199.6 823.4,1200.2 825.3,1200.8 827.3,1201.4 829.2,1202.0 831.2,1202.5 833.1,1203.0 835.1,1203.5 837.1,1204.0 839.1,1204.4 841.1,1204.8 843.1,1205.2 845.1,1205.6 847.1,1206.0 849.1,1206.3 851.1,1206.6 853.1,1206.9 855.1,1207.2 857.1,1207.5 859.2,1207.7 861.2,1207.9 863.2,1208.1 865.2,1208.3 867.2,1208.5 869.2,1208.6 871.2,1208.8 873.2,1208.9 875.2,1209.0 877.2,1209.1 879.2,1209.2 881.2,1209.2 883.1,1209.3 885.1,1209.3 887.1,1209.3 889.0,1209.3 890.9,1209.3 892.9,1209.3 894.8,1209.3" stroke="#000000" stroke-width="3.4" fill="none" stroke-linejoin="round" stroke-dasharray="0.0 0.0 30.2 12.0 28.0 14.0 26.0 12.0 28.0 12.0 28.1 10.1 30.2 12.1 26.2 12.1 26.1 14.0 28.0 12.0 24.0 12.0 28.0 12.0 28.1 10.2 28.7 12.6 27.4 12.1 26.2 12.1 28.1 12.0 26.1 14.0 26.1 12.0 26.1 14.0 26.1 12.0 28.2 12.1 28.1 13.8 33.6 14.3 34.9 16.3 33.6 11.9 26.2 14.2 26.3 11.9 9.7"/>
<text transform="translate(206.6,1279.8) scale(1,1.045)" font-size="41" font-weight="bold" text-anchor="middle">400</text>
<text transform="translate(359.8,1279.8) scale(1,1.045)" font-size="41" font-weight="bold" text-anchor="middle">500</text>
<text transform="translate(513.0,1279.8) scale(1,1.045)" font-size="41" font-weight="bold" text-anchor="middle">600</text>
<text transform="translate(666.2,1279.8) scale(1,1.045)" font-size="41" font-weight="bold" text-anchor="middle">700</text>
<text transform="translate(819.4,1279.8) scale(1,1.045)" font-size="41" font-weight="bold" text-anchor="middle">800</text>
<text transform="translate(147.6,1228.8) scale(1,1.045)" font-size="41" font-weight="bold" text-anchor="end">0.0</text>
<text transform="translate(147.6,1130.3) scale(1,1.045)" font-size="41" font-weight="bold" text-anchor="end">0.2</text>
<text transform="translate(147.6,1031.9) scale(1,1.045)" font-size="41" font-weight="bold" text-anchor="end">0.4</text>
<text transform="translate(147.6,933.4) scale(1,1.045)" font-size="41" font-weight="bold" text-anchor="end">0.6</text>
<text transform="translate(147.6,835.0) scale(1,1.045)" font-size="41" font-weight="bold" text-anchor="end">0.8</text>
<text transform="translate(147.6,736.5) scale(1,1.045)" font-size="41" font-weight="bold" text-anchor="end">1.0</text>
<text x="535.3" y="1346.9" font-size="45" font-weight="bold" text-anchor="middle">Wavelength (nm)</text>
<text transform="translate(67.4,958.2) rotate(-90)" font-size="44.6" font-weight="bold" text-anchor="middle">Normalised Intensity</text>
<text x="244.7" y="764.0" font-size="46" font-weight="bold" text-anchor="middle">3</text>
<text x="792.5" y="881.2" font-size="39" font-weight="bold" text-anchor="middle">DL</text>
<path d="M786.8,892.0l11,11 -11,11 -11,-11z" fill="#C00000"/>
<path d="M786.8,918.4V1235.1" stroke="#C00000" stroke-width="8.2" stroke-dasharray="7.8 7.55"/>
<path d="M775.8,1235.1h22l-11,22z" fill="#C00000"/>
<path d="M1111.4,1213.6V1221.6 M1264.3,1213.6V1221.6 M1417.2,1213.6V1221.6 M1570.1,1213.6V1221.6 M1723.0,1213.6V1221.6 M1080.0,1213.6H1072.0 M1080.0,1115.2H1072.0 M1080.0,1016.8H1072.0 M1080.0,918.5H1072.0 M1080.0,820.1H1072.0 M1080.0,721.7H1072.0" stroke="#555" stroke-width="2.2" fill="none"/>
<path d="M1149.6,1213.6V1208.6 M1149.6,696.3V702.8 M1187.9,1213.6V1208.6 M1187.9,696.3V702.8 M1226.1,1213.6V1208.6 M1226.1,696.3V702.8 M1302.5,1213.6V1208.6 M1302.5,696.3V702.8 M1340.8,1213.6V1208.6 M1340.8,696.3V702.8 M1379.0,1213.6V1208.6 M1379.0,696.3V702.8 M1455.4,1213.6V1208.6 M1455.4,696.3V702.8 M1493.7,1213.6V1208.6 M1493.7,696.3V702.8 M1531.9,1213.6V1208.6 M1531.9,696.3V702.8 M1608.3,1213.6V1208.6 M1608.3,696.3V702.8 M1646.6,1213.6V1208.6 M1646.6,696.3V702.8 M1684.8,1213.6V1208.6 M1684.8,696.3V702.8 M1761.2,1213.6V1208.6 M1761.2,696.3V702.8 M1080.0,1193.9H1087.0 M1797.6,1193.9H1793.6 M1080.0,1174.2H1087.0 M1797.6,1174.2H1793.6 M1080.0,1154.6H1087.0 M1797.6,1154.6H1793.6 M1080.0,1134.9H1087.0 M1797.6,1134.9H1793.6 M1080.0,1095.5H1087.0 M1797.6,1095.5H1793.6 M1080.0,1075.9H1087.0 M1797.6,1075.9H1793.6 M1080.0,1056.2H1087.0 M1797.6,1056.2H1793.6 M1080.0,1036.5H1087.0 M1797.6,1036.5H1793.6 M1080.0,997.2H1087.0 M1797.6,997.2H1793.6 M1080.0,977.5H1087.0 M1797.6,977.5H1793.6 M1080.0,957.8H1087.0 M1797.6,957.8H1793.6 M1080.0,938.1H1087.0 M1797.6,938.1H1793.6 M1080.0,898.8H1087.0 M1797.6,898.8H1793.6 M1080.0,879.1H1087.0 M1797.6,879.1H1793.6 M1080.0,859.4H1087.0 M1797.6,859.4H1793.6 M1080.0,839.8H1087.0 M1797.6,839.8H1793.6 M1080.0,800.4H1087.0 M1797.6,800.4H1793.6 M1080.0,780.7H1087.0 M1797.6,780.7H1793.6 M1080.0,761.1H1087.0 M1797.6,761.1H1793.6 M1080.0,741.4H1087.0 M1797.6,741.4H1793.6 M1080.0,702.0H1087.0 M1797.6,702.0H1793.6" stroke="#000" stroke-width="2.5" fill="none"/>
<rect x="1080.0" y="696.3" width="717.6" height="517.3" fill="none" stroke="#000" stroke-width="3.2"/>
<path d="M1080.7,1129.7 1082.1,1130.9 1083.5,1132.1 1085.0,1133.3 1086.6,1134.6 1088.2,1135.8 1089.9,1137.0 1091.5,1138.2 1093.3,1139.3 1095.0,1140.5 1096.8,1141.6 1098.6,1142.6 1100.5,1143.5 1102.3,1144.4 1104.2,1145.3 1106.1,1146.0 1108.0,1146.7 1109.9,1147.2 1111.8,1147.7 1113.7,1148.0 1115.6,1148.2 1117.5,1148.3 1119.4,1148.3 1121.3,1148.2 1123.2,1147.9 1125.0,1147.5 1126.9,1147.0 1128.7,1146.5 1130.5,1145.8 1132.3,1145.1 1134.1,1144.3 1135.9,1143.4 1137.7,1142.4 1139.4,1141.4 1141.2,1140.3 1142.9,1139.2 1144.6,1138.1 1146.3,1136.9 1148.0,1135.6 1149.7,1134.4 1151.3,1133.1 1153.0,1131.8 1154.6,1130.5 1156.2,1129.2 1157.8,1127.9 1159.4,1126.6 1161.0,1125.2 1162.6,1123.9 1164.2,1122.6 1165.8,1121.3 1167.4,1120.0 1169.0,1118.7 1170.6,1117.4 1172.2,1116.1 1173.8,1114.9 1175.5,1113.7 1177.1,1112.5 1178.7,1111.3 1180.4,1110.2 1182.1,1109.2 1183.7,1108.1 1185.5,1107.2 1187.2,1106.2 1188.9,1105.3 1190.7,1104.5 1192.5,1103.7 1194.3,1103.0 1196.1,1102.4 1197.9,1101.8 1199.8,1101.3 1201.8,1100.9 1203.7,1100.6 1205.7,1100.3 1207.7,1100.1 1209.7,1100.0 1211.7,1100.0 1213.7,1100.0 1215.7,1100.2 1217.7,1100.4 1219.7,1100.7 1221.6,1101.1 1223.6,1101.6 1225.4,1102.2 1227.3,1102.8 1229.1,1103.5 1230.9,1104.3 1232.6,1105.2 1234.3,1106.2 1235.9,1107.2 1237.6,1108.2 1239.2,1109.4 1240.8,1110.5 1242.3,1111.8 1243.9,1113.0 1245.4,1114.4 1246.9,1115.7 1248.3,1117.1 1249.8,1118.5 1251.3,1119.9 1252.7,1121.4 1254.2,1122.9 1255.6,1124.4 1257.0,1125.9 1258.4,1127.3 1259.9,1128.8 1261.3,1130.3 1262.7,1131.8 1264.2,1133.3 1265.6,1134.8 1267.1,1136.2 1268.6,1137.6 1270.1,1139.0 1271.6,1140.4 1273.1,1141.7 1274.6,1143.0 1276.2,1144.3 1277.8,1145.5 1279.4,1146.7 1281.0,1147.9 1282.6,1149.0 1284.3,1150.1 1285.9,1151.2 1287.6,1152.3 1289.3,1153.3 1291.0,1154.4 1292.7,1155.4 1294.4,1156.3 1296.1,1157.3 1297.9,1158.2 1299.6,1159.2 1301.4,1160.1 1303.2,1161.0 1305.0,1161.9 1306.8,1162.8 1308.6,1163.6 1310.4,1164.5 1312.2,1165.4 1314.0,1166.2 1315.9,1167.0 1317.7,1167.9 1319.6,1168.7 1321.4,1169.5 1323.3,1170.2 1325.1,1171.0 1327.0,1171.7 1328.9,1172.4 1330.8,1173.1 1332.7,1173.8 1334.6,1174.4 1336.5,1175.0 1338.4,1175.5 1340.4,1176.1 1342.3,1176.6 1344.2,1177.0 1346.2,1177.4 1348.1,1177.8 1350.1,1178.2 1352.0,1178.5 1354.0,1178.7 1356.0,1178.9 1358.0,1179.1 1360.0,1179.2 1362.0,1179.2 1364.0,1179.2 1366.0,1179.2 1368.0,1179.1 1370.0,1178.9 1372.0,1178.7 1374.0,1178.4 1376.1,1178.1 1378.1,1177.7 1380.1,1177.3 1382.1,1176.8 1384.0,1176.3 1386.0,1175.7 1387.9,1175.1 1389.9,1174.4 1391.8,1173.7 1393.7,1172.9 1395.5,1172.1 1397.4,1171.3 1399.1,1170.4 1400.9,1169.5 1402.7,1168.5 1404.4,1167.5 1406.0,1166.4 1407.7,1165.3 1409.3,1164.2 1410.9,1163.1 1412.4,1161.9 1413.9,1160.6 1415.4,1159.4 1416.9,1158.1 1418.3,1156.8 1419.8,1155.4 1421.2,1154.1 1422.5,1152.7 1423.9,1151.2 1425.2,1149.8 1426.5,1148.3 1427.8,1146.8 1429.1,1145.3 1430.3,1143.7 1431.5,1142.1 1432.7,1140.6 1433.9,1139.0 1435.1,1137.3 1436.3,1135.7 1437.4,1134.0 1438.6,1132.4 1439.7,1130.7 1440.8,1129.0 1441.9,1127.3 1443.0,1125.6 1444.0,1123.9 1445.1,1122.1 1446.1,1120.4 1447.2,1118.7 1448.2,1116.9 1449.3,1115.2 1450.3,1113.4 1451.3,1111.6 1452.3,1109.9 1453.3,1108.1 1454.3,1106.4 1455.3,1104.6 1456.3,1102.8 1457.3,1101.1 1458.3,1099.3 1459.3,1097.5 1460.2,1095.7 1461.2,1094.0 1462.2,1092.2 1463.1,1090.4 1464.1,1088.6 1465.0,1086.9 1466.0,1085.1 1466.9,1083.3 1467.8,1081.5 1468.7,1079.7 1469.7,1077.9 1470.6,1076.1 1471.5,1074.4 1472.4,1072.6 1473.3,1070.8 1474.2,1069.0 1475.0,1067.2 1475.9,1065.4 1476.8,1063.6 1477.6,1061.7 1478.5,1059.9 1479.3,1058.1 1480.2,1056.3 1481.0,1054.5 1481.8,1052.7 1482.7,1050.9 1483.5,1049.0 1484.3,1047.2 1485.1,1045.4 1485.9,1043.5 1486.7,1041.7 1487.4,1039.9 1488.2,1038.0 1489.0,1036.2 1489.7,1034.4 1490.5,1032.5 1491.2,1030.7 1492.0,1028.8 1492.7,1027.0 1493.4,1025.1 1494.1,1023.2 1494.8,1021.4 1495.5,1019.5 1496.2,1017.7 1496.9,1015.8 1497.6,1013.9 1498.3,1012.0 1498.9,1010.2 1499.6,1008.3 1500.2,1006.4 1500.9,1004.5 1501.5,1002.6 1502.1,1000.7 1502.7,998.8 1503.3,996.9 1503.9,995.0 1504.5,993.1 1505.1,991.2 1505.7,989.3 1506.3,987.4 1506.9,985.5 1507.4,983.6 1508.0,981.7 1508.5,979.8 1509.1,977.9 1509.6,975.9 1510.1,974.0 1510.7,972.1 1511.2,970.2 1511.7,968.2 1512.2,966.3 1512.7,964.4 1513.2,962.4 1513.7,960.5 1514.2,958.5 1514.7,956.6 1515.2,954.7 1515.6,952.7 1516.1,950.8 1516.6,948.8 1517.0,946.9 1517.5,944.9 1517.9,943.0 1518.4,941.0 1518.8,939.1 1519.3,937.1 1519.7,935.1 1520.1,933.2 1520.5,931.2 1521.0,929.3 1521.4,927.3 1521.8,925.3 1522.2,923.4 1522.6,921.4 1523.0,919.4 1523.4,917.5 1523.8,915.5 1524.2,913.5 1524.6,911.6 1524.9,909.6 1525.3,907.6 1525.7,905.6 1526.1,903.7 1526.4,901.7 1526.8,899.7 1527.2,897.7 1527.5,895.7 1527.9,893.8 1528.2,891.8 1528.6,889.8 1529.0,887.8 1529.3,885.8 1529.7,883.9 1530.0,881.9 1530.3,879.9 1530.7,877.9 1531.0,875.9 1531.4,873.9 1531.7,872.0 1532.0,870.0 1532.4,868.0 1532.7,866.0 1533.0,864.0 1533.4,862.0 1533.7,860.0 1534.0,858.1 1534.3,856.1 1534.7,854.1 1535.0,852.1 1535.3,850.1 1535.6,848.1 1536.0,846.1 1536.3,844.2 1536.6,842.2 1536.9,840.2 1537.2,838.2 1537.6,836.2 1537.9,834.2 1538.2,832.2 1538.5,830.3 1538.8,828.3 1539.2,826.3 1539.5,824.3 1539.8,822.3 1540.1,820.4 1540.5,818.4 1540.8,816.4 1541.1,814.4 1541.4,812.4 1541.7,810.5 1542.1,808.5 1542.4,806.5 1542.7,804.5 1543.1,802.6 1543.4,800.6 1543.7,798.6 1544.1,796.7 1544.4,794.7 1544.8,792.7 1545.1,790.8 1545.5,788.8 1545.8,786.9 1546.2,784.9 1546.5,783.0 1546.9,781.0 1547.3,779.1 1547.6,777.1 1548.0,775.2 1548.4,773.3 1548.8,771.4 1549.2,769.4 1549.6,767.5 1550.0,765.6 1550.4,763.7 1550.8,761.8 1551.2,759.9 1551.7,758.0 1552.1,756.1 1552.5,754.2 1553.0,752.2 1553.5,750.3 1554.0,748.4 1554.5,746.4 1555.0,744.4 1555.5,742.4 1556.0,740.4 1556.6,738.4 1557.2,736.3 1557.8,734.2 1558.4,732.1 1559.1,730.1 1560.0,728.1 1561.1,726.3 1562.3,724.6 1563.8,723.1 1565.5,722.1 1567.1,721.7 1568.7,722.1 1570.2,723.2 1571.5,724.8 1572.7,726.6 1573.7,728.5 1574.5,730.5 1575.2,732.6 1575.8,734.6 1576.3,736.7 1576.8,738.7 1577.2,740.8 1577.7,742.7 1578.2,744.7 1578.6,746.7 1579.0,748.6 1579.5,750.5 1579.9,752.4 1580.3,754.4 1580.7,756.3 1581.1,758.2 1581.4,760.2 1581.8,762.1 1582.2,764.1 1582.5,766.0 1582.9,768.0 1583.2,769.9 1583.5,771.9 1583.8,773.8 1584.2,775.8 1584.5,777.8 1584.8,779.8 1585.1,781.7 1585.4,783.7 1585.7,785.7 1585.9,787.7 1586.2,789.7 1586.5,791.6 1586.7,793.6 1587.0,795.6 1587.3,797.6 1587.5,799.6 1587.8,801.6 1588.0,803.6 1588.3,805.6 1588.5,807.6 1588.7,809.6 1589.0,811.6 1589.2,813.6 1589.4,815.6 1589.7,817.6 1589.9,819.6 1590.1,821.6 1590.4,823.6 1590.6,825.6 1590.8,827.6 1591.1,829.6 1591.3,831.6 1591.5,833.6 1591.7,835.6 1592.0,837.6 1592.2,839.5 1592.4,841.5 1592.6,843.5 1592.9,845.5 1593.1,847.5 1593.3,849.5 1593.6,851.5 1593.8,853.5 1594.0,855.5 1594.2,857.5 1594.5,859.5 1594.7,861.5 1594.9,863.4 1595.2,865.4 1595.4,867.4 1595.6,869.4 1595.8,871.4 1596.1,873.4 1596.3,875.4 1596.5,877.4 1596.8,879.4 1597.0,881.3 1597.2,883.3 1597.4,885.3 1597.7,887.3 1597.9,889.3 1598.1,891.3 1598.4,893.3 1598.6,895.3 1598.8,897.2 1599.1,899.2 1599.3,901.2 1599.5,903.2 1599.7,905.2 1600.0,907.2 1600.2,909.2 1600.4,911.2 1600.7,913.1 1600.9,915.1 1601.1,917.1 1601.4,919.1 1601.6,921.1 1601.8,923.1 1602.1,925.1 1602.3,927.0 1602.6,929.0 1602.8,931.0 1603.0,933.0 1603.3,935.0 1603.5,937.0 1603.7,939.0 1604.0,941.0 1604.2,942.9 1604.4,944.9 1604.7,946.9 1604.9,948.9 1605.2,950.9 1605.4,952.9 1605.6,954.9 1605.9,956.8 1606.1,958.8 1606.3,960.8 1606.6,962.8 1606.8,964.8 1607.0,966.8 1607.3,968.8 1607.5,970.8 1607.8,972.7 1608.0,974.7 1608.2,976.7 1608.5,978.7 1608.7,980.7 1608.9,982.7 1609.2,984.7 1609.4,986.7 1609.7,988.7 1609.9,990.6 1610.1,992.6 1610.4,994.6 1610.6,996.6 1610.8,998.6 1611.1,1000.6 1611.3,1002.6 1611.6,1004.6 1611.8,1006.6 1612.0,1008.5 1612.3,1010.5 1612.5,1012.5 1612.7,1014.5 1613.0,1016.5 1613.2,1018.5 1613.4,1020.5 1613.7,1022.5 1613.9,1024.5 1614.1,1026.5 1614.4,1028.5 1614.6,1030.5 1614.8,1032.4 1615.1,1034.4 1615.3,1036.4 1615.5,1038.4 1615.8,1040.4 1616.0,1042.4 1616.2,1044.4 1616.5,1046.4 1616.7,1048.4 1616.9,1050.4 1617.2,1052.4 1617.4,1054.4 1617.6,1056.4 1617.9,1058.4 1618.1,1060.4 1618.4,1062.3 1618.6,1064.3 1618.9,1066.3 1619.1,1068.3 1619.4,1070.3 1619.6,1072.3 1619.9,1074.3 1620.2,1076.3 1620.4,1078.3 1620.7,1080.2 1621.0,1082.2 1621.3,1084.2 1621.6,1086.2 1621.9,1088.2 1622.2,1090.2 1622.5,1092.1 1622.8,1094.1 1623.2,1096.1 1623.5,1098.1 1623.8,1100.1 1624.2,1102.0 1624.5,1104.0 1624.9,1106.0 1625.3,1107.9 1625.6,1109.9 1626.0,1111.9 1626.4,1113.8 1626.8,1115.8 1627.3,1117.7 1627.7,1119.7 1628.1,1121.7 1628.6,1123.6 1629.0,1125.6 1629.5,1127.5 1630.0,1129.5 1630.5,1131.4 1631.0,1133.3 1631.5,1135.3 1632.0,1137.2 1632.6,1139.1 1633.1,1141.1 1633.7,1143.0 1634.3,1144.9 1634.9,1146.8 1635.5,1148.8 1636.1,1150.7 1636.8,1152.6 1637.4,1154.5 1638.1,1156.4 1638.8,1158.3 1639.5,1160.2 1640.2,1162.1 1640.9,1164.0 1641.6,1165.9 1642.4,1167.8 1643.2,1169.7 1644.0,1171.5 1644.8,1173.4 1645.7,1175.2 1646.6,1177.0 1647.5,1178.8 1648.5,1180.5 1649.4,1182.2 1650.5,1183.8 1651.5,1185.4 1652.7,1187.0 1653.8,1188.5 1655.0,1190.0 1656.3,1191.3 1657.6,1192.7 1659.0,1193.9 1660.4,1195.1 1661.9,1196.2 1663.4,1197.2 1665.0,1198.1 1666.7,1199.0 1668.5,1199.7 1670.3,1200.4 1672.2,1200.9 1674.1,1201.4 1676.2,1201.7 1678.2,1202.0 1680.3,1202.2 1682.5,1202.4 1684.7,1202.5 1686.9,1202.5 1689.1,1202.5 1691.3,1202.5 1693.5,1202.5 1695.7,1202.4 1697.9,1202.4 1700.0,1202.3 1702.2,1202.3 1704.3,1202.2 1706.3,1202.2 1708.4,1202.2 1710.4,1202.2 1712.4,1202.2 1714.3,1202.2 1716.3,1202.2 1718.2,1202.3 1720.1,1202.3 1722.0,1202.3 1723.9,1202.4 1725.8,1202.4 1727.7,1202.5 1729.6,1202.6 1731.5,1202.6 1733.4,1202.7 1735.2,1202.8 1737.1,1202.9 1739.1,1203.0 1741.0,1203.1 1742.9,1203.2 1744.9,1203.3 1746.8,1203.4 1748.8,1203.5 1750.9,1203.6 1752.9,1203.7 1755.0,1203.9 1757.0,1204.0 1759.1,1204.1 1761.2,1204.2 1763.3,1204.3 1765.4,1204.4 1767.5,1204.5 1769.6,1204.6 1771.7,1204.7 1773.8,1204.8 1775.9,1204.9 1778.0,1205.0 1780.0,1205.1 1782.1,1205.2 1784.1,1205.2 1786.1,1205.3 1788.1,1205.4 1790.0,1205.4 1791.9,1205.5 1793.8,1205.5 1795.6,1205.5 1797.4,1205.5" stroke="#FF0000" stroke-width="2.8" fill="none" stroke-linejoin="round"/>
<path d="M1492.8,1214.0 1495.1,1214.5 1497.3,1214.8 1499.5,1215.1 1501.6,1215.2 1503.7,1215.2 1505.8,1215.1 1507.9,1214.9 1509.9,1214.6 1511.8,1214.2 1513.8,1213.8 1515.7,1213.2 1517.6,1212.6 1519.4,1211.8 1521.2,1211.0 1522.9,1210.1 1524.7,1209.2 1526.4,1208.2 1528.0,1207.1 1529.6,1205.9 1531.2,1204.7 1532.7,1203.5 1534.2,1202.2 1535.6,1200.8 1537.0,1199.4 1538.4,1197.9 1539.7,1196.4 1540.9,1194.9 1542.2,1193.3 1543.3,1191.7 1544.5,1190.0 1545.6,1188.4 1546.6,1186.7 1547.6,1184.9 1548.5,1183.2 1549.4,1181.5 1550.3,1179.7 1551.1,1177.9 1551.9,1176.1 1552.6,1174.3 1553.4,1172.4 1554.0,1170.6 1554.7,1168.7 1555.3,1166.8 1555.8,1164.9 1556.4,1163.0 1556.9,1161.1 1557.4,1159.2 1557.9,1157.3 1558.3,1155.3 1558.7,1153.3 1559.1,1151.4 1559.5,1149.4 1559.9,1147.4 1560.2,1145.4 1560.6,1143.4 1560.9,1141.4 1561.2,1139.4 1561.5,1137.4 1561.8,1135.4 1562.1,1133.4 1562.4,1131.4 1562.7,1129.4 1562.9,1127.4 1563.2,1125.4 1563.5,1123.4 1563.8,1121.4 1564.0,1119.4 1564.3,1117.4 1564.6,1115.3 1564.9,1113.3 1565.2,1111.3 1565.4,1109.3 1565.7,1107.3 1566.0,1105.3 1566.3,1103.3 1566.6,1101.3 1566.8,1099.4 1567.1,1097.4 1567.4,1095.4 1567.7,1093.4 1568.0,1091.4 1568.2,1089.4 1568.5,1087.4 1568.8,1085.4 1569.1,1083.4 1569.3,1081.4 1569.6,1079.4 1569.9,1077.5 1570.2,1075.5 1570.5,1073.5 1570.7,1071.5 1571.0,1069.5 1571.3,1067.5 1571.6,1065.6 1571.8,1063.6 1572.1,1061.6 1572.4,1059.6 1572.6,1057.6 1572.9,1055.6 1573.2,1053.7 1573.4,1051.7 1573.7,1049.7 1574.0,1047.7 1574.2,1045.7 1574.5,1043.8 1574.8,1041.8 1575.0,1039.8 1575.3,1037.8 1575.6,1035.8 1575.8,1033.9 1576.1,1031.9 1576.3,1029.9 1576.6,1027.9 1576.8,1025.9 1577.1,1024.0 1577.3,1022.0 1577.6,1020.0 1577.8,1018.0 1578.1,1016.0 1578.3,1014.1 1578.6,1012.1 1578.8,1010.1 1579.0,1008.1 1579.3,1006.1 1579.5,1004.2 1579.7,1002.2 1580.0,1000.2 1580.2,998.2 1580.4,996.2 1580.6,994.2 1580.9,992.2 1581.1,990.3 1581.3,988.3 1581.5,986.3 1581.7,984.3 1581.9,982.3 1582.1,980.3 1582.3,978.3 1582.5,976.3 1582.7,974.3 1582.9,972.3 1583.1,970.3 1583.3,968.3 1583.5,966.3 1583.7,964.3 1583.9,962.3 1584.1,960.3 1584.3,958.3 1584.4,956.3 1584.6,954.3 1584.8,952.3 1585.0,950.3 1585.1,948.3 1585.3,946.3 1585.5,944.3 1585.7,942.3 1585.8,940.3 1586.0,938.3 1586.2,936.3 1586.3,934.3 1586.5,932.3 1586.7,930.3 1586.8,928.3 1587.0,926.3 1587.1,924.3 1587.3,922.3 1587.5,920.3 1587.6,918.3 1587.8,916.3 1588.0,914.3 1588.1,912.3 1588.3,910.3 1588.5,908.2 1588.6,906.2 1588.8,904.2 1589.0,902.2 1589.1,900.2 1589.3,898.2 1589.5,896.2 1589.7,894.2 1589.8,892.2 1590.0,890.2 1590.2,888.2 1590.4,886.2 1590.5,884.2 1590.7,882.3 1590.9,880.3 1591.1,878.3 1591.3,876.3 1591.5,874.3 1591.6,872.3 1591.8,870.3 1592.0,868.3 1592.2,866.3 1592.4,864.3 1592.6,862.3 1592.8,860.3 1593.0,858.3 1593.2,856.4 1593.4,854.4 1593.6,852.4 1593.7,850.4 1593.9,848.4 1594.1,846.4 1594.3,844.4 1594.5,842.4 1594.7,840.4 1594.9,838.5 1595.1,836.5 1595.3,834.5 1595.5,832.5 1595.7,830.5 1595.9,828.5 1596.1,826.5 1596.3,824.6 1596.5,822.6 1596.7,820.6 1596.9,818.6 1597.1,816.6 1597.3,814.6 1597.5,812.6 1597.7,810.6 1597.9,808.7 1598.2,806.7 1598.4,804.7 1598.6,802.7 1598.8,800.7 1599.1,798.7 1599.3,796.7 1599.6,794.7 1599.8,792.7 1600.1,790.7 1600.3,788.7 1600.6,786.7 1600.9,784.7 1601.1,782.7 1601.4,780.7 1601.7,778.7 1602.0,776.7 1602.3,774.7 1602.6,772.7 1602.9,770.7 1603.3,768.7 1603.6,766.7 1603.9,764.6 1604.3,762.6 1604.6,760.7 1604.9,758.7 1605.2,756.7 1605.5,754.8 1605.8,752.9 1606.0,751.0 1606.3,749.1 1606.5,747.3 1606.7,745.4 1607.0,743.5 1607.2,741.7 1607.6,739.7 1607.9,737.8 1608.3,735.7 1608.8,733.6 1609.4,731.5 1610.0,729.2 1610.8,727.0 1611.8,724.9 1613.0,723.2 1614.4,722.2 1615.8,722.1 1617.2,723.1 1618.3,724.8 1619.3,726.9 1620.0,729.1 1620.7,731.4 1621.2,733.6 1621.6,735.6 1622.0,737.6 1622.3,739.5 1622.6,741.4 1622.9,743.3 1623.2,745.2 1623.5,747.1 1623.8,749.1 1624.1,751.0 1624.4,752.9 1624.7,754.9 1625.0,756.8 1625.3,758.8 1625.6,760.7 1625.9,762.7 1626.2,764.7 1626.5,766.6 1626.8,768.6 1627.0,770.6 1627.3,772.6 1627.6,774.6 1627.9,776.5 1628.1,778.5 1628.4,780.5 1628.7,782.5 1628.9,784.5 1629.2,786.5 1629.4,788.5 1629.7,790.5 1630.0,792.5 1630.2,794.5 1630.5,796.5 1630.7,798.5 1630.9,800.5 1631.2,802.5 1631.4,804.5 1631.7,806.5 1631.9,808.5 1632.1,810.5 1632.3,812.5 1632.6,814.5 1632.8,816.5 1633.0,818.5 1633.2,820.5 1633.5,822.5 1633.7,824.5 1633.9,826.5 1634.1,828.5 1634.3,830.5 1634.5,832.5 1634.7,834.5 1635.0,836.4 1635.2,838.4 1635.4,840.4 1635.6,842.4 1635.8,844.4 1636.0,846.4 1636.2,848.4 1636.4,850.4 1636.6,852.4 1636.8,854.4 1637.0,856.4 1637.2,858.4 1637.4,860.4 1637.6,862.4 1637.8,864.4 1638.0,866.4 1638.2,868.4 1638.4,870.4 1638.6,872.4 1638.8,874.4 1639.0,876.3 1639.2,878.3 1639.4,880.3 1639.5,882.3 1639.7,884.3 1639.9,886.3 1640.1,888.3 1640.3,890.3 1640.5,892.3 1640.7,894.3 1640.9,896.3 1641.1,898.3 1641.3,900.3 1641.5,902.3 1641.8,904.2 1642.0,906.2 1642.2,908.2 1642.4,910.2 1642.6,912.2 1642.8,914.2 1643.0,916.2 1643.2,918.2 1643.4,920.2 1643.6,922.2 1643.9,924.2 1644.1,926.1 1644.3,928.1 1644.5,930.1 1644.7,932.1 1645.0,934.1 1645.2,936.1 1645.4,938.1 1645.7,940.1 1645.9,942.1 1646.1,944.0 1646.4,946.0 1646.6,948.0 1646.9,950.0 1647.1,952.0 1647.4,954.0 1647.6,956.0 1647.9,957.9 1648.1,959.9 1648.4,961.9 1648.7,963.9 1648.9,965.9 1649.2,967.9 1649.5,969.8 1649.7,971.8 1650.0,973.8 1650.3,975.8 1650.6,977.8 1650.9,979.7 1651.2,981.7 1651.5,983.7 1651.8,985.7 1652.1,987.7 1652.4,989.6 1652.7,991.6 1653.0,993.6 1653.3,995.6 1653.7,997.5 1654.0,999.5 1654.3,1001.5 1654.7,1003.5 1655.0,1005.4 1655.3,1007.4 1655.7,1009.4 1656.1,1011.4 1656.4,1013.3 1656.8,1015.3 1657.1,1017.3 1657.5,1019.2 1657.9,1021.2 1658.3,1023.2 1658.7,1025.1 1659.1,1027.1 1659.5,1029.1 1659.9,1031.0 1660.3,1033.0 1660.7,1035.0 1661.1,1036.9 1661.5,1038.9 1662.0,1040.9 1662.4,1042.8 1662.9,1044.8 1663.3,1046.7 1663.8,1048.7 1664.2,1050.7 1664.7,1052.6 1665.2,1054.6 1665.7,1056.5 1666.1,1058.5 1666.6,1060.4 1667.1,1062.4 1667.6,1064.3 1668.1,1066.3 1668.7,1068.2 1669.2,1070.2 1669.7,1072.1 1670.3,1074.1 1670.8,1076.0 1671.4,1078.0 1671.9,1079.9 1672.5,1081.9 1673.1,1083.8 1673.7,1085.7 1674.3,1087.6 1674.9,1089.6 1675.6,1091.5 1676.2,1093.3 1676.9,1095.2 1677.6,1097.1 1678.4,1098.9 1679.1,1100.7 1679.9,1102.5 1680.8,1104.3 1681.6,1106.1 1682.5,1107.8 1683.5,1109.5 1684.4,1111.2 1685.4,1112.9 1686.5,1114.5 1687.6,1116.1 1688.7,1117.7 1689.9,1119.2 1691.2,1120.7 1692.4,1122.2 1693.8,1123.6 1695.2,1125.0 1696.6,1126.4 1698.1,1127.7 1699.6,1129.0 1701.1,1130.3 1702.7,1131.5 1704.3,1132.7 1705.9,1133.9 1707.6,1135.1 1709.3,1136.3 1711.0,1137.5 1712.7,1138.6 1714.4,1139.7 1716.1,1140.9 1717.8,1142.0 1719.5,1143.1 1721.2,1144.2 1723.0,1145.4 1724.7,1146.5 1726.3,1147.6 1728.0,1148.7 1729.7,1149.9 1731.3,1151.0 1733.0,1152.2 1734.6,1153.3 1736.3,1154.5 1737.9,1155.6 1739.5,1156.8 1741.1,1157.9 1742.7,1159.1 1744.3,1160.2 1746.0,1161.4 1747.6,1162.5 1749.2,1163.6 1750.8,1164.8 1752.4,1165.9 1754.0,1167.0 1755.6,1168.1 1757.2,1169.3 1758.8,1170.4 1760.4,1171.5 1762.0,1172.6 1763.7,1173.6 1765.3,1174.7 1766.9,1175.8 1768.6,1176.9 1770.3,1177.9 1771.9,1178.9 1773.6,1180.0 1775.3,1181.0 1777.0,1182.0 1778.7,1183.0 1780.4,1183.9 1782.2,1184.9 1783.9,1185.8 1785.7,1186.8 1787.5,1187.7 1789.3,1188.6 1791.1,1189.5 1793.0,1190.3 1794.8,1191.2 1796.7,1192.0 1798.6,1192.8 1800.6,1193.6" stroke="#FF0000" stroke-width="3.9" fill="none" stroke-linejoin="round" stroke-dasharray="0.0 0.0 21.1 9.9 21.8 12.0 21.7 11.9 18.1 10.2 22.3 10.1 20.1 10.0 20.0 12.0 20.0 10.0 20.0 10.0 20.1 10.1 22.1 8.0 22.1 10.0 20.0 10.0 22.0 8.0 22.0 8.0 22.3 8.1 23.2 8.5 20.7 12.5 21.6 10.0 20.1 10.1 20.1 10.0 20.1 10.0 22.0 8.0 20.0 10.0 22.0 10.0 20.0 10.0 20.0 10.0 22.1 8.0 24.2 8.1 24.2 13.8 19.5 10.0 24.5 8.1 25.8 9.8 23.6 10.0 14.3"/>
<text transform="translate(1111.4,1278.1) scale(1,1.045)" font-size="41" font-weight="bold" text-anchor="middle">400</text>
<text transform="translate(1264.3,1278.1) scale(1,1.045)" font-size="41" font-weight="bold" text-anchor="middle">500</text>
<text transform="translate(1417.2,1278.1) scale(1,1.045)" font-size="41" font-weight="bold" text-anchor="middle">600</text>
<text transform="translate(1570.1,1278.1) scale(1,1.045)" font-size="41" font-weight="bold" text-anchor="middle">700</text>
<text transform="translate(1723.0,1278.1) scale(1,1.045)" font-size="41" font-weight="bold" text-anchor="middle">800</text>
<text transform="translate(1052.7,1226.6) scale(1,1.045)" font-size="41" font-weight="bold" text-anchor="end">0.0</text>
<text transform="translate(1052.7,1128.2) scale(1,1.045)" font-size="41" font-weight="bold" text-anchor="end">0.2</text>
<text transform="translate(1052.7,1029.8) scale(1,1.045)" font-size="41" font-weight="bold" text-anchor="end">0.4</text>
<text transform="translate(1052.7,931.5) scale(1,1.045)" font-size="41" font-weight="bold" text-anchor="end">0.6</text>
<text transform="translate(1052.7,833.1) scale(1,1.045)" font-size="41" font-weight="bold" text-anchor="end">0.8</text>
<text transform="translate(1052.7,734.7) scale(1,1.045)" font-size="41" font-weight="bold" text-anchor="end">1.0</text>
<text x="1439.8" y="1344.7" font-size="45" font-weight="bold" text-anchor="middle">Wavelength (nm)</text>
<text transform="translate(971.2,956.5) rotate(-90)" font-size="44.6" font-weight="bold" text-anchor="middle">Normalised Intensity</text>
<text x="1157.0" y="759.3" font-size="46" font-weight="bold" text-anchor="middle">4</text>
<text x="1685.1" y="883.3" font-size="39" font-weight="bold" text-anchor="middle">DL</text>
<path d="M1684.0,892.0l11,11 -11,11 -11,-11z" fill="#C00000"/>
<path d="M1684.0,918.4V1235.1" stroke="#C00000" stroke-width="8.2" stroke-dasharray="7.8 7.55"/>
<path d="M1673.0,1235.1h22l-11,22z" fill="#C00000"/>
</svg>
</body></html>
